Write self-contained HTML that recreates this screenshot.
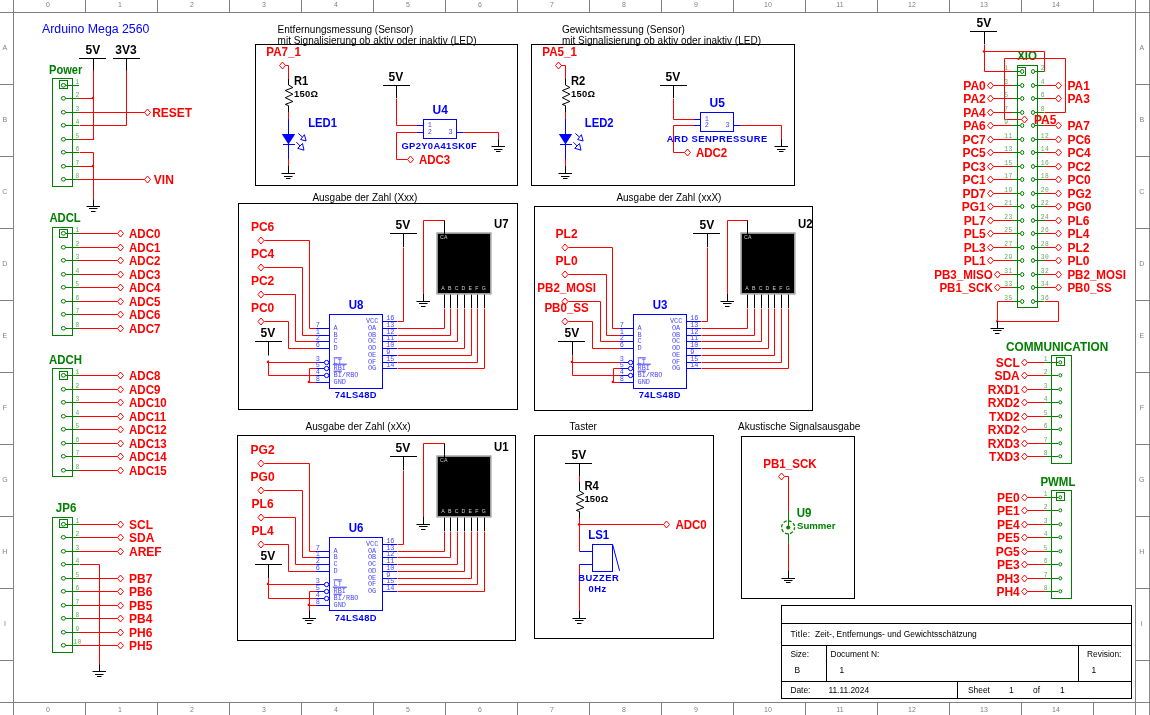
<!DOCTYPE html>
<html lang="de"><head><meta charset="utf-8"><title>Zeit-, Entfernungs- und Gewichtsschätzung</title>
<style>
html,body{margin:0;padding:0;background:#fff;}
svg{display:block;will-change:transform;}
text{font-family:"Liberation Sans",sans-serif;}
.fr{font-size:7px;fill:#808080;}
.am{font-size:12.3px;fill:#0000ff;}
.bk{font-size:12px;font-weight:bold;fill:#000;}
.bks{font-size:9.4px;font-weight:bold;fill:#000;letter-spacing:0.25px;}
.rd{font-size:12px;font-weight:bold;fill:#ff0000;}
.gn{font-size:12px;font-weight:bold;fill:#008000;}
.gns{font-size:9.6px;font-weight:bold;fill:#008000;}
.bl{font-size:12px;font-weight:bold;fill:#0000ff;}
.bls{font-size:9.4px;font-weight:bold;fill:#0000ff;}
.t10{font-size:10px;fill:#000;}
.tb{font-size:8.4px;fill:#000;}
.pg{font-family:"Liberation Mono",monospace;font-size:6.3px;fill:#62ae62;letter-spacing:0.45px;}
.pb{font-family:"Liberation Mono",monospace;font-size:6.9px;fill:#4848ff;}
.dl{font-size:5.2px;fill:#d0d0d0;letter-spacing:0.4px;}
</style></head>
<body>
<svg width="1150" height="715" viewBox="0 0 1150 715" fill="none">
<rect x="0" y="0" width="1150" height="715" fill="#fff"/>
<path d="M0 12.5L1150 12.5" stroke="#808080"/>
<path d="M0 702.5L1150 702.5" stroke="#808080"/>
<path d="M13.5 0L13.5 715" stroke="#808080"/>
<path d="M1135.5 0L1135.5 715" stroke="#808080"/>
<path d="M1149.6 0L1149.6 715" stroke="#808080"/>
<path d="M85.5 0L85.5 12.5" stroke="#808080"/>
<path d="M85.5 702.5L85.5 715" stroke="#808080"/>
<path d="M157.5 0L157.5 12.5" stroke="#808080"/>
<path d="M157.5 702.5L157.5 715" stroke="#808080"/>
<path d="M229.5 0L229.5 12.5" stroke="#808080"/>
<path d="M229.5 702.5L229.5 715" stroke="#808080"/>
<path d="M301.5 0L301.5 12.5" stroke="#808080"/>
<path d="M301.5 702.5L301.5 715" stroke="#808080"/>
<path d="M373.5 0L373.5 12.5" stroke="#808080"/>
<path d="M373.5 702.5L373.5 715" stroke="#808080"/>
<path d="M445.5 0L445.5 12.5" stroke="#808080"/>
<path d="M445.5 702.5L445.5 715" stroke="#808080"/>
<path d="M517.5 0L517.5 12.5" stroke="#808080"/>
<path d="M517.5 702.5L517.5 715" stroke="#808080"/>
<path d="M589.5 0L589.5 12.5" stroke="#808080"/>
<path d="M589.5 702.5L589.5 715" stroke="#808080"/>
<path d="M661.5 0L661.5 12.5" stroke="#808080"/>
<path d="M661.5 702.5L661.5 715" stroke="#808080"/>
<path d="M733.5 0L733.5 12.5" stroke="#808080"/>
<path d="M733.5 702.5L733.5 715" stroke="#808080"/>
<path d="M805.5 0L805.5 12.5" stroke="#808080"/>
<path d="M805.5 702.5L805.5 715" stroke="#808080"/>
<path d="M877.5 0L877.5 12.5" stroke="#808080"/>
<path d="M877.5 702.5L877.5 715" stroke="#808080"/>
<path d="M949.5 0L949.5 12.5" stroke="#808080"/>
<path d="M949.5 702.5L949.5 715" stroke="#808080"/>
<path d="M1021.5 0L1021.5 12.5" stroke="#808080"/>
<path d="M1021.5 702.5L1021.5 715" stroke="#808080"/>
<path d="M1093.5 0L1093.5 12.5" stroke="#808080"/>
<path d="M1093.5 702.5L1093.5 715" stroke="#808080"/>
<path d="M0 84.5L13.5 84.5" stroke="#808080"/>
<path d="M1135.5 84.5L1150 84.5" stroke="#808080"/>
<path d="M0 156.5L13.5 156.5" stroke="#808080"/>
<path d="M1135.5 156.5L1150 156.5" stroke="#808080"/>
<path d="M0 228.5L13.5 228.5" stroke="#808080"/>
<path d="M1135.5 228.5L1150 228.5" stroke="#808080"/>
<path d="M0 300.5L13.5 300.5" stroke="#808080"/>
<path d="M1135.5 300.5L1150 300.5" stroke="#808080"/>
<path d="M0 372.5L13.5 372.5" stroke="#808080"/>
<path d="M1135.5 372.5L1150 372.5" stroke="#808080"/>
<path d="M0 444.5L13.5 444.5" stroke="#808080"/>
<path d="M1135.5 444.5L1150 444.5" stroke="#808080"/>
<path d="M0 516.5L13.5 516.5" stroke="#808080"/>
<path d="M1135.5 516.5L1150 516.5" stroke="#808080"/>
<path d="M0 588.5L13.5 588.5" stroke="#808080"/>
<path d="M1135.5 588.5L1150 588.5" stroke="#808080"/>
<path d="M0 660.5L13.5 660.5" stroke="#808080"/>
<path d="M1135.5 660.5L1150 660.5" stroke="#808080"/>
<text x="48" y="6.9" class="fr" text-anchor="middle">0</text>
<text x="48" y="712.1" class="fr" text-anchor="middle">0</text>
<text x="120" y="6.9" class="fr" text-anchor="middle">1</text>
<text x="120" y="712.1" class="fr" text-anchor="middle">1</text>
<text x="192" y="6.9" class="fr" text-anchor="middle">2</text>
<text x="192" y="712.1" class="fr" text-anchor="middle">2</text>
<text x="264" y="6.9" class="fr" text-anchor="middle">3</text>
<text x="264" y="712.1" class="fr" text-anchor="middle">3</text>
<text x="336" y="6.9" class="fr" text-anchor="middle">4</text>
<text x="336" y="712.1" class="fr" text-anchor="middle">4</text>
<text x="408" y="6.9" class="fr" text-anchor="middle">5</text>
<text x="408" y="712.1" class="fr" text-anchor="middle">5</text>
<text x="480" y="6.9" class="fr" text-anchor="middle">6</text>
<text x="480" y="712.1" class="fr" text-anchor="middle">6</text>
<text x="552" y="6.9" class="fr" text-anchor="middle">7</text>
<text x="552" y="712.1" class="fr" text-anchor="middle">7</text>
<text x="624" y="6.9" class="fr" text-anchor="middle">8</text>
<text x="624" y="712.1" class="fr" text-anchor="middle">8</text>
<text x="696" y="6.9" class="fr" text-anchor="middle">9</text>
<text x="696" y="712.1" class="fr" text-anchor="middle">9</text>
<text x="768" y="6.9" class="fr" text-anchor="middle">10</text>
<text x="768" y="712.1" class="fr" text-anchor="middle">10</text>
<text x="840" y="6.9" class="fr" text-anchor="middle">11</text>
<text x="840" y="712.1" class="fr" text-anchor="middle">11</text>
<text x="912" y="6.9" class="fr" text-anchor="middle">12</text>
<text x="912" y="712.1" class="fr" text-anchor="middle">12</text>
<text x="984" y="6.9" class="fr" text-anchor="middle">13</text>
<text x="984" y="712.1" class="fr" text-anchor="middle">13</text>
<text x="1056" y="6.9" class="fr" text-anchor="middle">14</text>
<text x="1056" y="712.1" class="fr" text-anchor="middle">14</text>
<text x="4.9" y="50.1" class="fr" text-anchor="middle">A</text>
<text x="1141.8" y="50" class="fr" text-anchor="middle">A</text>
<text x="4.9" y="122.1" class="fr" text-anchor="middle">B</text>
<text x="1141.8" y="122" class="fr" text-anchor="middle">B</text>
<text x="4.9" y="194.1" class="fr" text-anchor="middle">C</text>
<text x="1141.8" y="194" class="fr" text-anchor="middle">C</text>
<text x="4.9" y="266.1" class="fr" text-anchor="middle">D</text>
<text x="1141.8" y="266" class="fr" text-anchor="middle">D</text>
<text x="4.9" y="338.1" class="fr" text-anchor="middle">E</text>
<text x="1141.8" y="338" class="fr" text-anchor="middle">E</text>
<text x="4.9" y="410.1" class="fr" text-anchor="middle">F</text>
<text x="1141.8" y="410" class="fr" text-anchor="middle">F</text>
<text x="4.9" y="482.1" class="fr" text-anchor="middle">G</text>
<text x="1141.8" y="482" class="fr" text-anchor="middle">G</text>
<text x="4.9" y="554.1" class="fr" text-anchor="middle">H</text>
<text x="1141.8" y="554" class="fr" text-anchor="middle">H</text>
<text x="4.9" y="626.1" class="fr" text-anchor="middle">I</text>
<text x="1141.8" y="626" class="fr" text-anchor="middle">I</text>
<text x="42" y="32.8" class="am">Arduino Mega 2560</text>
<text x="49" y="74" class="gn" textLength="33.31" lengthAdjust="spacingAndGlyphs">Power</text>
<rect x="52.5" y="78.5" width="20" height="108" stroke="#008000" fill="none"/>
<rect x="59.5" y="80.5" width="8" height="8" stroke="#008000" fill="none"/>
<ellipse cx="63.4" cy="85.3" rx="2.1" ry="1.8" stroke="#008000" fill="none"/>
<path d="M65.5 85.5L79 85.5" stroke="#008000"/>
<text x="77.6" y="84.1" class="pg" text-anchor="middle">1</text>
<ellipse cx="63.4" cy="98.3" rx="2.1" ry="1.8" stroke="#008000" fill="none"/>
<path d="M65.5 98.5L79 98.5" stroke="#008000"/>
<text x="77.6" y="97.1" class="pg" text-anchor="middle">2</text>
<ellipse cx="63.4" cy="112.3" rx="2.1" ry="1.8" stroke="#008000" fill="none"/>
<path d="M65.5 112.5L79 112.5" stroke="#008000"/>
<text x="77.6" y="111.1" class="pg" text-anchor="middle">3</text>
<ellipse cx="63.4" cy="125.3" rx="2.1" ry="1.8" stroke="#008000" fill="none"/>
<path d="M65.5 125.5L79 125.5" stroke="#008000"/>
<text x="77.6" y="124.1" class="pg" text-anchor="middle">4</text>
<ellipse cx="63.4" cy="139.3" rx="2.1" ry="1.8" stroke="#008000" fill="none"/>
<path d="M65.5 139.5L79 139.5" stroke="#008000"/>
<text x="77.6" y="138.1" class="pg" text-anchor="middle">5</text>
<ellipse cx="63.4" cy="152.3" rx="2.1" ry="1.8" stroke="#008000" fill="none"/>
<path d="M65.5 152.5L79 152.5" stroke="#008000"/>
<text x="77.6" y="151.1" class="pg" text-anchor="middle">6</text>
<ellipse cx="63.4" cy="166.3" rx="2.1" ry="1.8" stroke="#008000" fill="none"/>
<path d="M65.5 166.5L79 166.5" stroke="#008000"/>
<text x="77.6" y="165.1" class="pg" text-anchor="middle">7</text>
<ellipse cx="63.4" cy="179.3" rx="2.1" ry="1.8" stroke="#008000" fill="none"/>
<path d="M65.5 179.5L79 179.5" stroke="#008000"/>
<text x="77.6" y="178.1" class="pg" text-anchor="middle">8</text>
<text x="92.9" y="54" class="bk" text-anchor="middle">5V</text>
<path d="M79 58.5L106 58.5" stroke="#000000"/>
<path d="M93.5 58.5L93.5 71" stroke="#000000"/>
<text x="125.9" y="54" class="bk" text-anchor="middle">3V3</text>
<path d="M113 58.5L140 58.5" stroke="#000000"/>
<path d="M126.5 58.5L126.5 71" stroke="#000000"/>
<path d="M93.5 70.5L93.5 139.5" stroke="#ff0000"/>
<path d="M79 98.5L93.5 98.5" stroke="#ff0000"/>
<path d="M79 139.5L94 139.5" stroke="#ff0000"/>
<circle cx="92.9" cy="98" r="1.2" fill="#ff0000"/>
<path d="M126.5 70.5L126.5 125.5L79.5 125.5" stroke="#ff0000" fill="none"/>
<path d="M79 112.5L144.8 112.5" stroke="#ff0000"/>
<path d="M144.5 112.5L147.5 109L150.5 112.5L147.5 116Z" stroke="#ff0000" fill="#fff"/>
<text x="152.2" y="116.8" class="rd">RESET</text>
<path d="M79 179.5L144.8 179.5" stroke="#ff0000"/>
<path d="M144.5 179.5L147.5 176L150.5 179.5L147.5 183Z" stroke="#ff0000" fill="#fff"/>
<text x="153.8" y="183.8" class="rd">VIN</text>
<path d="M79.5 152.5L93.5 152.5L93.5 199.5" stroke="#ff0000" fill="none"/>
<path d="M79 166.5L93.5 166.5" stroke="#ff0000"/>
<circle cx="92.9" cy="166" r="1.2" fill="#ff0000"/>
<path d="M93.5 199.3L93.5 206.3" stroke="#000000"/>
<path d="M86.5 206.5L100 206.5" stroke="#000000"/>
<path d="M89 208.5L97.5 208.5" stroke="#000000"/>
<path d="M91 211.5L95.5 211.5" stroke="#000000"/>
<text x="49.4" y="222.2" class="gn" textLength="31.33" lengthAdjust="spacingAndGlyphs">ADCL</text>
<rect x="52.5" y="227.5" width="20" height="108" stroke="#008000" fill="none"/>
<rect x="59.5" y="229.5" width="8" height="8" stroke="#008000" fill="none"/>
<ellipse cx="63.4" cy="233.3" rx="2.1" ry="1.8" stroke="#008000" fill="none"/>
<path d="M65.5 233.5L79 233.5" stroke="#008000"/>
<text x="77.6" y="232.1" class="pg" text-anchor="middle">1</text>
<path d="M79 233.5L117.6 233.5" stroke="#ff0000"/>
<path d="M117.5 233.5L120.5 230L123.5 233.5L120.5 237Z" stroke="#ff0000" fill="#fff"/>
<text x="129" y="237.8" class="rd" textLength="31.37" lengthAdjust="spacingAndGlyphs">ADC0</text>
<ellipse cx="63.4" cy="247.3" rx="2.1" ry="1.8" stroke="#008000" fill="none"/>
<path d="M65.5 247.5L79 247.5" stroke="#008000"/>
<text x="77.6" y="246.1" class="pg" text-anchor="middle">2</text>
<path d="M79 247.5L117.6 247.5" stroke="#ff0000"/>
<path d="M117.5 247.5L120.5 244L123.5 247.5L120.5 251Z" stroke="#ff0000" fill="#fff"/>
<text x="129" y="251.8" class="rd" textLength="31.37" lengthAdjust="spacingAndGlyphs">ADC1</text>
<ellipse cx="63.4" cy="260.3" rx="2.1" ry="1.8" stroke="#008000" fill="none"/>
<path d="M65.5 260.5L79 260.5" stroke="#008000"/>
<text x="77.6" y="259.1" class="pg" text-anchor="middle">3</text>
<path d="M79 260.5L117.6 260.5" stroke="#ff0000"/>
<path d="M117.5 260.5L120.5 257L123.5 260.5L120.5 264Z" stroke="#ff0000" fill="#fff"/>
<text x="129" y="264.8" class="rd" textLength="31.37" lengthAdjust="spacingAndGlyphs">ADC2</text>
<ellipse cx="63.4" cy="274.3" rx="2.1" ry="1.8" stroke="#008000" fill="none"/>
<path d="M65.5 274.5L79 274.5" stroke="#008000"/>
<text x="77.6" y="273.1" class="pg" text-anchor="middle">4</text>
<path d="M79 274.5L117.6 274.5" stroke="#ff0000"/>
<path d="M117.5 274.5L120.5 271L123.5 274.5L120.5 278Z" stroke="#ff0000" fill="#fff"/>
<text x="129" y="278.8" class="rd" textLength="31.37" lengthAdjust="spacingAndGlyphs">ADC3</text>
<ellipse cx="63.4" cy="287.3" rx="2.1" ry="1.8" stroke="#008000" fill="none"/>
<path d="M65.5 287.5L79 287.5" stroke="#008000"/>
<text x="77.6" y="286.1" class="pg" text-anchor="middle">5</text>
<path d="M79 287.5L117.6 287.5" stroke="#ff0000"/>
<path d="M117.5 287.5L120.5 284L123.5 287.5L120.5 291Z" stroke="#ff0000" fill="#fff"/>
<text x="129" y="291.8" class="rd" textLength="31.37" lengthAdjust="spacingAndGlyphs">ADC4</text>
<ellipse cx="63.4" cy="301.3" rx="2.1" ry="1.8" stroke="#008000" fill="none"/>
<path d="M65.5 301.5L79 301.5" stroke="#008000"/>
<text x="77.6" y="300.1" class="pg" text-anchor="middle">6</text>
<path d="M79 301.5L117.6 301.5" stroke="#ff0000"/>
<path d="M117.5 301.5L120.5 298L123.5 301.5L120.5 305Z" stroke="#ff0000" fill="#fff"/>
<text x="129" y="305.8" class="rd" textLength="31.37" lengthAdjust="spacingAndGlyphs">ADC5</text>
<ellipse cx="63.4" cy="314.3" rx="2.1" ry="1.8" stroke="#008000" fill="none"/>
<path d="M65.5 314.5L79 314.5" stroke="#008000"/>
<text x="77.6" y="313.1" class="pg" text-anchor="middle">7</text>
<path d="M79 314.5L117.6 314.5" stroke="#ff0000"/>
<path d="M117.5 314.5L120.5 311L123.5 314.5L120.5 318Z" stroke="#ff0000" fill="#fff"/>
<text x="129" y="318.8" class="rd" textLength="31.37" lengthAdjust="spacingAndGlyphs">ADC6</text>
<ellipse cx="63.4" cy="328.3" rx="2.1" ry="1.8" stroke="#008000" fill="none"/>
<path d="M65.5 328.5L79 328.5" stroke="#008000"/>
<text x="77.6" y="327.1" class="pg" text-anchor="middle">8</text>
<path d="M79 328.5L117.6 328.5" stroke="#ff0000"/>
<path d="M117.5 328.5L120.5 325L123.5 328.5L120.5 332Z" stroke="#ff0000" fill="#fff"/>
<text x="129" y="332.8" class="rd" textLength="31.37" lengthAdjust="spacingAndGlyphs">ADC7</text>
<text x="49" y="363.6" class="gn" textLength="32.93" lengthAdjust="spacingAndGlyphs">ADCH</text>
<rect x="52.5" y="368.5" width="20" height="108" stroke="#008000" fill="none"/>
<rect x="59.5" y="371.5" width="8" height="8" stroke="#008000" fill="none"/>
<ellipse cx="63.4" cy="375.3" rx="2.1" ry="1.8" stroke="#008000" fill="none"/>
<path d="M65.5 375.5L79 375.5" stroke="#008000"/>
<text x="77.6" y="374.1" class="pg" text-anchor="middle">1</text>
<path d="M79 375.5L117.6 375.5" stroke="#ff0000"/>
<path d="M117.5 375.5L120.5 372L123.5 375.5L120.5 379Z" stroke="#ff0000" fill="#fff"/>
<text x="129" y="379.8" class="rd" textLength="31.37" lengthAdjust="spacingAndGlyphs">ADC8</text>
<ellipse cx="63.4" cy="389.3" rx="2.1" ry="1.8" stroke="#008000" fill="none"/>
<path d="M65.5 389.5L79 389.5" stroke="#008000"/>
<text x="77.6" y="388.1" class="pg" text-anchor="middle">2</text>
<path d="M79 389.5L117.6 389.5" stroke="#ff0000"/>
<path d="M117.5 389.5L120.5 386L123.5 389.5L120.5 393Z" stroke="#ff0000" fill="#fff"/>
<text x="129" y="393.8" class="rd" textLength="31.37" lengthAdjust="spacingAndGlyphs">ADC9</text>
<ellipse cx="63.4" cy="402.3" rx="2.1" ry="1.8" stroke="#008000" fill="none"/>
<path d="M65.5 402.5L79 402.5" stroke="#008000"/>
<text x="77.6" y="401.1" class="pg" text-anchor="middle">3</text>
<path d="M79 402.5L117.6 402.5" stroke="#ff0000"/>
<path d="M117.5 402.5L120.5 399L123.5 402.5L120.5 406Z" stroke="#ff0000" fill="#fff"/>
<text x="129" y="406.8" class="rd" textLength="37.77" lengthAdjust="spacingAndGlyphs">ADC10</text>
<ellipse cx="63.4" cy="416.3" rx="2.1" ry="1.8" stroke="#008000" fill="none"/>
<path d="M65.5 416.5L79 416.5" stroke="#008000"/>
<text x="77.6" y="415.1" class="pg" text-anchor="middle">4</text>
<path d="M79 416.5L117.6 416.5" stroke="#ff0000"/>
<path d="M117.5 416.5L120.5 413L123.5 416.5L120.5 420Z" stroke="#ff0000" fill="#fff"/>
<text x="129" y="420.8" class="rd" textLength="37.14" lengthAdjust="spacingAndGlyphs">ADC11</text>
<ellipse cx="63.4" cy="429.3" rx="2.1" ry="1.8" stroke="#008000" fill="none"/>
<path d="M65.5 429.5L79 429.5" stroke="#008000"/>
<text x="77.6" y="428.1" class="pg" text-anchor="middle">5</text>
<path d="M79 429.5L117.6 429.5" stroke="#ff0000"/>
<path d="M117.5 429.5L120.5 426L123.5 429.5L120.5 433Z" stroke="#ff0000" fill="#fff"/>
<text x="129" y="433.8" class="rd" textLength="37.77" lengthAdjust="spacingAndGlyphs">ADC12</text>
<ellipse cx="63.4" cy="443.3" rx="2.1" ry="1.8" stroke="#008000" fill="none"/>
<path d="M65.5 443.5L79 443.5" stroke="#008000"/>
<text x="77.6" y="442.1" class="pg" text-anchor="middle">6</text>
<path d="M79 443.5L117.6 443.5" stroke="#ff0000"/>
<path d="M117.5 443.5L120.5 440L123.5 443.5L120.5 447Z" stroke="#ff0000" fill="#fff"/>
<text x="129" y="447.8" class="rd" textLength="37.77" lengthAdjust="spacingAndGlyphs">ADC13</text>
<ellipse cx="63.4" cy="456.3" rx="2.1" ry="1.8" stroke="#008000" fill="none"/>
<path d="M65.5 456.5L79 456.5" stroke="#008000"/>
<text x="77.6" y="455.1" class="pg" text-anchor="middle">7</text>
<path d="M79 456.5L117.6 456.5" stroke="#ff0000"/>
<path d="M117.5 456.5L120.5 453L123.5 456.5L120.5 460Z" stroke="#ff0000" fill="#fff"/>
<text x="129" y="460.8" class="rd" textLength="37.77" lengthAdjust="spacingAndGlyphs">ADC14</text>
<ellipse cx="63.4" cy="470.3" rx="2.1" ry="1.8" stroke="#008000" fill="none"/>
<path d="M65.5 470.5L79 470.5" stroke="#008000"/>
<text x="77.6" y="469.1" class="pg" text-anchor="middle">8</text>
<path d="M79 470.5L117.6 470.5" stroke="#ff0000"/>
<path d="M117.5 470.5L120.5 467L123.5 470.5L120.5 474Z" stroke="#ff0000" fill="#fff"/>
<text x="129" y="474.8" class="rd" textLength="37.77" lengthAdjust="spacingAndGlyphs">ADC15</text>
<path d="M79.5 564.5L99.5 564.5L99.5 665.5" stroke="#ff0000" fill="none"/>
<text x="55.8" y="512" class="gn" textLength="20.5" lengthAdjust="spacingAndGlyphs">JP6</text>
<rect x="52.5" y="517.5" width="20" height="135" stroke="#008000" fill="none"/>
<rect x="59.5" y="519.5" width="8" height="8" stroke="#008000" fill="none"/>
<ellipse cx="63.4" cy="524.3" rx="2.1" ry="1.8" stroke="#008000" fill="none"/>
<path d="M65.5 524.5L79 524.5" stroke="#008000"/>
<text x="77.6" y="523.1" class="pg" text-anchor="middle">1</text>
<path d="M79 524.5L117.6 524.5" stroke="#ff0000"/>
<path d="M117.5 524.5L120.5 521L123.5 524.5L120.5 528Z" stroke="#ff0000" fill="#fff"/>
<text x="129" y="528.8" class="rd">SCL</text>
<ellipse cx="63.4" cy="537.3" rx="2.1" ry="1.8" stroke="#008000" fill="none"/>
<path d="M65.5 537.5L79 537.5" stroke="#008000"/>
<text x="77.6" y="536.1" class="pg" text-anchor="middle">2</text>
<path d="M79 537.5L117.6 537.5" stroke="#ff0000"/>
<path d="M117.5 537.5L120.5 534L123.5 537.5L120.5 541Z" stroke="#ff0000" fill="#fff"/>
<text x="129" y="541.8" class="rd">SDA</text>
<ellipse cx="63.4" cy="551.3" rx="2.1" ry="1.8" stroke="#008000" fill="none"/>
<path d="M65.5 551.5L79 551.5" stroke="#008000"/>
<text x="77.6" y="550.1" class="pg" text-anchor="middle">3</text>
<path d="M79 551.5L117.6 551.5" stroke="#ff0000"/>
<path d="M117.5 551.5L120.5 548L123.5 551.5L120.5 555Z" stroke="#ff0000" fill="#fff"/>
<text x="129" y="555.8" class="rd">AREF</text>
<ellipse cx="63.4" cy="564.3" rx="2.1" ry="1.8" stroke="#008000" fill="none"/>
<path d="M65.5 564.5L79 564.5" stroke="#008000"/>
<text x="77.6" y="563.1" class="pg" text-anchor="middle">4</text>
<ellipse cx="63.4" cy="578.3" rx="2.1" ry="1.8" stroke="#008000" fill="none"/>
<path d="M65.5 578.5L79 578.5" stroke="#008000"/>
<text x="77.6" y="577.1" class="pg" text-anchor="middle">5</text>
<path d="M79 578.5L117.6 578.5" stroke="#ff0000"/>
<path d="M117.5 578.5L120.5 575L123.5 578.5L120.5 582Z" stroke="#ff0000" fill="#fff"/>
<text x="129" y="582.8" class="rd">PB7</text>
<ellipse cx="63.4" cy="591.3" rx="2.1" ry="1.8" stroke="#008000" fill="none"/>
<path d="M65.5 591.5L79 591.5" stroke="#008000"/>
<text x="77.6" y="590.1" class="pg" text-anchor="middle">6</text>
<path d="M79 591.5L117.6 591.5" stroke="#ff0000"/>
<path d="M117.5 591.5L120.5 588L123.5 591.5L120.5 595Z" stroke="#ff0000" fill="#fff"/>
<text x="129" y="595.8" class="rd">PB6</text>
<ellipse cx="63.4" cy="605.3" rx="2.1" ry="1.8" stroke="#008000" fill="none"/>
<path d="M65.5 605.5L79 605.5" stroke="#008000"/>
<text x="77.6" y="604.1" class="pg" text-anchor="middle">7</text>
<path d="M79 605.5L117.6 605.5" stroke="#ff0000"/>
<path d="M117.5 605.5L120.5 602L123.5 605.5L120.5 609Z" stroke="#ff0000" fill="#fff"/>
<text x="129" y="609.8" class="rd">PB5</text>
<ellipse cx="63.4" cy="618.3" rx="2.1" ry="1.8" stroke="#008000" fill="none"/>
<path d="M65.5 618.5L79 618.5" stroke="#008000"/>
<text x="77.6" y="617.1" class="pg" text-anchor="middle">8</text>
<path d="M79 618.5L117.6 618.5" stroke="#ff0000"/>
<path d="M117.5 618.5L120.5 615L123.5 618.5L120.5 622Z" stroke="#ff0000" fill="#fff"/>
<text x="129" y="622.8" class="rd">PB4</text>
<ellipse cx="63.4" cy="632.3" rx="2.1" ry="1.8" stroke="#008000" fill="none"/>
<path d="M65.5 632.5L79 632.5" stroke="#008000"/>
<text x="77.6" y="631.1" class="pg" text-anchor="middle">9</text>
<path d="M79 632.5L117.6 632.5" stroke="#ff0000"/>
<path d="M117.5 632.5L120.5 629L123.5 632.5L120.5 636Z" stroke="#ff0000" fill="#fff"/>
<text x="129" y="636.8" class="rd">PH6</text>
<ellipse cx="63.4" cy="645.3" rx="2.1" ry="1.8" stroke="#008000" fill="none"/>
<path d="M65.5 645.5L79 645.5" stroke="#008000"/>
<text x="77.6" y="644.1" class="pg" text-anchor="middle">10</text>
<path d="M79 645.5L117.6 645.5" stroke="#ff0000"/>
<path d="M117.5 645.5L120.5 642L123.5 645.5L120.5 649Z" stroke="#ff0000" fill="#fff"/>
<text x="129" y="649.8" class="rd">PH5</text>
<path d="M99.5 664.7L99.5 671.7" stroke="#000000"/>
<path d="M92.5 671.5L106 671.5" stroke="#000000"/>
<path d="M95 674.5L103.5 674.5" stroke="#000000"/>
<path d="M97 676.5L101.5 676.5" stroke="#000000"/>
<rect x="255.5" y="44.5" width="262" height="141" stroke="#000000" fill="none"/>
<text x="277.6" y="32.5" class="t10">Entfernungsmessung (Sensor)</text>
<text x="277.6" y="43.6" class="t10">mit Signalisierung ob aktiv oder inaktiv (LED)</text>
<text x="283.6" y="55.6" class="rd" text-anchor="middle" textLength="34.55" lengthAdjust="spacingAndGlyphs">PA7_1</text>
<path d="M279.5 65.5L282.5 62L285.5 65.5L282.5 69Z" stroke="#ff0000" fill="#fff"/>
<path d="M285.5 65.5L288.5 65.5L288.5 79.5" stroke="#ff0000" fill="none"/>
<path d="M288.5 79L288.5 85" stroke="#000000"/>
<path d="M288.5 85L292.9 87.5L285.3 90.5L292.9 94.2L285.3 97.7L292.9 101.5L285.3 104.4L288.5 105.6L288.5 106" stroke="#000000" fill="none"/>
<path d="M288.5 106L288.5 112" stroke="#000000"/>
<path d="M288.5 112L288.5 119" stroke="#ff0000"/>
<path d="M288.5 119L288.5 134.4" stroke="#0000ff"/>
<path d="M281.8 134L295.2 134L288.5 144.4Z" fill="#0000ff"/>
<path d="M283 144.5L295 144.5" stroke="#0000ff"/>
<path d="M298.3 133.4L302.5 137.1" stroke="#0000ff"/>
<path d="M304.4 134.7L306.1 141L300.6 139.5Z" fill="#fff" stroke="#0000ff"/>
<path d="M296.4 142.2L300.2 146" stroke="#0000ff"/>
<path d="M302.5 143.5L304 150.2L297.7 148.3Z" fill="#fff" stroke="#0000ff"/>
<path d="M288.5 144L288.5 159" stroke="#0000ff"/>
<path d="M288.5 159L288.5 166" stroke="#ff0000"/>
<path d="M288.5 166L288.5 173.6" stroke="#000000"/>
<path d="M281.5 173.5L295 173.5" stroke="#000000"/>
<path d="M284 176.5L292.5 176.5" stroke="#000000"/>
<path d="M286 178.5L290.5 178.5" stroke="#000000"/>
<text x="294" y="85" class="bk" textLength="14.27" lengthAdjust="spacingAndGlyphs">R1</text>
<text x="294" y="97" class="bks">150Ω</text>
<text x="308.2" y="127" class="bl" textLength="28.83" lengthAdjust="spacingAndGlyphs">LED1</text>
<text x="395.9" y="81" class="bk" text-anchor="middle">5V</text>
<path d="M383 85.5L410 85.5" stroke="#000000"/>
<path d="M396.5 85.5L396.5 98" stroke="#000000"/>
<path d="M396.5 98.5L396.5 125.5L417.5 125.5" stroke="#ff0000" fill="none"/>
<path d="M417 125.5L423.5 125.5" stroke="#0000ff"/>
<path d="M417.5 132.5L396.5 132.5L396.5 159.5L407.5 159.5" stroke="#ff0000" fill="none"/>
<path d="M417 132.5L423.5 132.5" stroke="#0000ff"/>
<path d="M407.5 159.5L410.5 156L413.5 159.5L410.5 163Z" stroke="#ff0000" fill="#fff"/>
<text x="418.9" y="164.3" class="rd" textLength="31.37" lengthAdjust="spacingAndGlyphs">ADC3</text>
<rect x="423.5" y="119.5" width="33" height="19" stroke="#0000ff" fill="none"/>
<text x="429.7" y="126.9" class="pb" text-anchor="middle">1</text>
<text x="429.7" y="133.9" class="pb" text-anchor="middle">2</text>
<text x="450.5" y="133.9" class="pb" text-anchor="middle">3</text>
<text x="440.2" y="113.6" class="bl" text-anchor="middle">U4</text>
<path d="M456.5 132.5L463.8 132.5" stroke="#0000ff"/>
<path d="M463.5 132.5L498.5 132.5L498.5 139.5" stroke="#ff0000" fill="none"/>
<path d="M498.5 139.1L498.5 146.5" stroke="#000000"/>
<path d="M491.5 146.5L505 146.5" stroke="#000000"/>
<path d="M494 149.5L502.5 149.5" stroke="#000000"/>
<path d="M496 151.5L500.5 151.5" stroke="#000000"/>
<text x="401.4" y="148.6" class="bls" style="letter-spacing:0.36px;">GP2Y0A41SK0F</text>
<rect x="531.5" y="44.5" width="263" height="141" stroke="#000000" fill="none"/>
<text x="562" y="32.5" class="t10">Gewichtsmessung (Sensor)</text>
<text x="562" y="43.6" class="t10">mit Signalisierung ob aktiv oder inaktiv (LED)</text>
<text x="559.6" y="55.6" class="rd" text-anchor="middle" textLength="34.55" lengthAdjust="spacingAndGlyphs">PA5_1</text>
<path d="M555.5 65.5L558.5 62L561.5 65.5L558.5 69Z" stroke="#ff0000" fill="#fff"/>
<path d="M561.5 65.5L565.5 65.5L565.5 79.5" stroke="#ff0000" fill="none"/>
<path d="M565.5 79L565.5 85" stroke="#000000"/>
<path d="M565.5 85L569.9 87.5L562.3 90.5L569.9 94.2L562.3 97.7L569.9 101.5L562.3 104.4L565.5 105.6L565.5 106" stroke="#000000" fill="none"/>
<path d="M565.5 106L565.5 112" stroke="#000000"/>
<path d="M565.5 112L565.5 119" stroke="#ff0000"/>
<path d="M565.5 119L565.5 134.4" stroke="#0000ff"/>
<path d="M558.8 134L572.2 134L565.5 144.4Z" fill="#0000ff"/>
<path d="M560 144.5L572 144.5" stroke="#0000ff"/>
<path d="M575.3 133.4L579.5 137.1" stroke="#0000ff"/>
<path d="M581.4 134.7L583.1 141L577.6 139.5Z" fill="#fff" stroke="#0000ff"/>
<path d="M573.4 142.2L577.2 146" stroke="#0000ff"/>
<path d="M579.5 143.5L581 150.2L574.7 148.3Z" fill="#fff" stroke="#0000ff"/>
<path d="M565.5 144L565.5 159" stroke="#0000ff"/>
<path d="M565.5 159L565.5 166" stroke="#ff0000"/>
<path d="M565.5 166L565.5 173.6" stroke="#000000"/>
<path d="M558.5 173.5L572 173.5" stroke="#000000"/>
<path d="M561 176.5L569.5 176.5" stroke="#000000"/>
<path d="M563 178.5L567.5 178.5" stroke="#000000"/>
<text x="571" y="85" class="bk" textLength="14.27" lengthAdjust="spacingAndGlyphs">R2</text>
<text x="571" y="97" class="bks">150Ω</text>
<text x="584.8" y="127" class="bl" textLength="28.83" lengthAdjust="spacingAndGlyphs">LED2</text>
<text x="672.9" y="81" class="bk" text-anchor="middle">5V</text>
<path d="M660 85.5L687 85.5" stroke="#000000"/>
<path d="M673.5 85.5L673.5 98" stroke="#000000"/>
<path d="M673.5 98.5L673.5 119.5L694.5 119.5" stroke="#ff0000" fill="none"/>
<path d="M694 119.5L700.5 119.5" stroke="#0000ff"/>
<path d="M694.5 125.5L673.5 125.5L673.5 152.5L684.5 152.5" stroke="#ff0000" fill="none"/>
<path d="M694 125.5L700.5 125.5" stroke="#0000ff"/>
<path d="M684.5 152.5L687.5 149L690.5 152.5L687.5 156Z" stroke="#ff0000" fill="#fff"/>
<text x="695.9" y="157.3" class="rd" textLength="31.37" lengthAdjust="spacingAndGlyphs">ADC2</text>
<rect x="700.5" y="112.5" width="33" height="19" stroke="#0000ff" fill="none"/>
<text x="706.7" y="120.9" class="pb" text-anchor="middle">1</text>
<text x="706.7" y="126.9" class="pb" text-anchor="middle">2</text>
<text x="727.5" y="126.9" class="pb" text-anchor="middle">3</text>
<text x="717.2" y="106.6" class="bl" text-anchor="middle">U5</text>
<path d="M733.5 125.5L740.8 125.5" stroke="#0000ff"/>
<path d="M740.5 125.5L781.5 125.5L781.5 139.5" stroke="#ff0000" fill="none"/>
<path d="M781.5 139.1L781.5 146.5" stroke="#000000"/>
<path d="M774.5 146.5L788 146.5" stroke="#000000"/>
<path d="M777 149.5L785.5 149.5" stroke="#000000"/>
<path d="M779 151.5L783.5 151.5" stroke="#000000"/>
<text x="666.8" y="142" class="bls" style="letter-spacing:0.47px;">ARD SENPRESSURE</text>
<rect x="238.5" y="203.5" width="279" height="206" stroke="#000000" fill="none"/>
<text x="312.4" y="200.9" class="t10">Ausgabe der Zahl (Xxx)</text>
<path d="M264.5 240.5L309.5 240.5L309.5 328.5L316.5 328.5" stroke="#ff0000" fill="none"/>
<path d="M264.5 267.5L302.5 267.5L302.5 335.5L316.5 335.5" stroke="#ff0000" fill="none"/>
<path d="M264.5 294.5L295.5 294.5L295.5 341.5L316.5 341.5" stroke="#ff0000" fill="none"/>
<path d="M264.5 321.5L288.5 321.5L288.5 348.5L316.5 348.5" stroke="#ff0000" fill="none"/>
<text x="262.6" y="231" class="rd" text-anchor="middle">PC6</text>
<path d="M258 240.5L261 237L264 240.5L261 244Z" stroke="#ff0000" fill="#fff"/>
<text x="262.6" y="258.4" class="rd" text-anchor="middle">PC4</text>
<path d="M258 267.5L261 264L264 267.5L261 271Z" stroke="#ff0000" fill="#fff"/>
<text x="262.6" y="285" class="rd" text-anchor="middle">PC2</text>
<path d="M258 294.5L261 291L264 294.5L261 298Z" stroke="#ff0000" fill="#fff"/>
<text x="262.6" y="312" class="rd" text-anchor="middle">PC0</text>
<path d="M258 321.5L261 318L264 321.5L261 325Z" stroke="#ff0000" fill="#fff"/>
<text x="402.9" y="229" class="bk" text-anchor="middle">5V</text>
<path d="M390 233.5L417 233.5" stroke="#000000"/>
<path d="M403.5 233.5L403.5 247" stroke="#000000"/>
<path d="M403.5 247.5L403.5 321.5L397.5 321.5" stroke="#ff0000" fill="none"/>
<path d="M423.5 294.5L423.5 220.5L444.5 220.5" stroke="#ff0000" fill="none"/>
<path d="M423.5 294L423.5 301.4" stroke="#000000"/>
<path d="M416.5 301.5L430 301.5" stroke="#000000"/>
<path d="M419 303.5L427.5 303.5" stroke="#000000"/>
<path d="M421 306.5L425.5 306.5" stroke="#000000"/>
<rect x="437.1" y="233.1" width="53.7" height="60.7" stroke="#a0a0a4" fill="#000" stroke-width="1.6"/>
<text x="439.9" y="239.1" class="dl">CA</text>
<path d="M444.5 220.4L444.5 234" stroke="#000000"/>
<text x="443.2" y="290.1" class="dl" text-anchor="middle">A</text>
<path d="M444.5 294.6L444.5 308" stroke="#000000"/>
<path d="M444.5 308.5L444.5 328.5L397.5 328.5" stroke="#ff0000" fill="none"/>
<text x="449.98" y="290.1" class="dl" text-anchor="middle">B</text>
<path d="M450.5 294.6L450.5 308" stroke="#000000"/>
<path d="M450.5 308.5L450.5 335.5L397.5 335.5" stroke="#ff0000" fill="none"/>
<text x="456.76" y="290.1" class="dl" text-anchor="middle">C</text>
<path d="M457.5 294.6L457.5 308" stroke="#000000"/>
<path d="M457.5 308.5L457.5 341.5L397.5 341.5" stroke="#ff0000" fill="none"/>
<text x="463.54" y="290.1" class="dl" text-anchor="middle">D</text>
<path d="M464.5 294.6L464.5 308" stroke="#000000"/>
<path d="M464.5 308.5L464.5 348.5L397.5 348.5" stroke="#ff0000" fill="none"/>
<text x="470.32" y="290.1" class="dl" text-anchor="middle">E</text>
<path d="M471.5 294.6L471.5 308" stroke="#000000"/>
<path d="M471.5 308.5L471.5 355.5L397.5 355.5" stroke="#ff0000" fill="none"/>
<text x="477.1" y="290.1" class="dl" text-anchor="middle">F</text>
<path d="M477.5 294.6L477.5 308" stroke="#000000"/>
<path d="M477.5 308.5L477.5 362.5L397.5 362.5" stroke="#ff0000" fill="none"/>
<text x="483.88" y="290.1" class="dl" text-anchor="middle">G</text>
<path d="M484.5 294.6L484.5 308" stroke="#000000"/>
<path d="M484.5 308.5L484.5 368.5L397.5 368.5" stroke="#ff0000" fill="none"/>
<text x="494" y="228" class="bk" textLength="14.57" lengthAdjust="spacingAndGlyphs">U7</text>
<text x="356" y="309.4" class="bl" text-anchor="middle" textLength="14.73" lengthAdjust="spacingAndGlyphs">U8</text>
<rect x="329.5" y="314.5" width="53" height="74" stroke="#0000ff" fill="none"/>
<path d="M383 321.5L397 321.5" stroke="#0000ff"/>
<text x="386.2" y="319.9" class="pb">16</text>
<text x="372.1" y="323" class="pb" text-anchor="middle">VCC</text>
<path d="M383 328.5L397 328.5" stroke="#0000ff"/>
<text x="386.2" y="326.9" class="pb">13</text>
<text x="372.1" y="330" class="pb" text-anchor="middle">OA</text>
<path d="M383 335.5L397 335.5" stroke="#0000ff"/>
<text x="386.2" y="333.9" class="pb">12</text>
<text x="372.1" y="337" class="pb" text-anchor="middle">OB</text>
<path d="M383 341.5L397 341.5" stroke="#0000ff"/>
<text x="386.2" y="339.9" class="pb">11</text>
<text x="372.1" y="343" class="pb" text-anchor="middle">OC</text>
<path d="M383 348.5L397 348.5" stroke="#0000ff"/>
<text x="386.2" y="346.9" class="pb">10</text>
<text x="372.1" y="350" class="pb" text-anchor="middle">OD</text>
<path d="M383 355.5L397 355.5" stroke="#0000ff"/>
<text x="386.2" y="353.9" class="pb">9</text>
<text x="372.1" y="357" class="pb" text-anchor="middle">OE</text>
<path d="M383 362.5L397 362.5" stroke="#0000ff"/>
<text x="386.2" y="360.9" class="pb">15</text>
<text x="372.1" y="364" class="pb" text-anchor="middle">OF</text>
<path d="M383 368.5L397 368.5" stroke="#0000ff"/>
<text x="386.2" y="366.9" class="pb">14</text>
<text x="372.1" y="370" class="pb" text-anchor="middle">OG</text>
<path d="M316 328.5L329.5 328.5" stroke="#0000ff"/>
<text x="315.7" y="326.9" class="pb">7</text>
<text x="333.6" y="330" class="pb">A</text>
<path d="M316 335.5L329.5 335.5" stroke="#0000ff"/>
<text x="315.7" y="333.9" class="pb">1</text>
<text x="333.6" y="337" class="pb">B</text>
<path d="M316 341.5L329.5 341.5" stroke="#0000ff"/>
<text x="315.7" y="339.9" class="pb">2</text>
<text x="333.6" y="343" class="pb">C</text>
<path d="M316 348.5L329.5 348.5" stroke="#0000ff"/>
<text x="315.7" y="346.9" class="pb">6</text>
<text x="333.6" y="350" class="pb">D</text>
<path d="M316 362.5L324.4 362.5" stroke="#0000ff"/>
<circle cx="326.6" cy="362.5" r="2.15" stroke="#0000ff" fill="#fff"/>
<text x="315.7" y="360.9" class="pb">3</text>
<text x="333.6" y="364.1" class="pb">LT</text>
<path d="M316 368.5L324.4 368.5" stroke="#0000ff"/>
<circle cx="326.6" cy="368.5" r="2.15" stroke="#0000ff" fill="#fff"/>
<text x="315.7" y="366.9" class="pb">5</text>
<text x="333.6" y="370.1" class="pb">RBI</text>
<path d="M316 375.5L324.4 375.5" stroke="#0000ff"/>
<circle cx="326.6" cy="375.5" r="2.15" stroke="#0000ff" fill="#fff"/>
<text x="315.7" y="373.9" class="pb">4</text>
<text x="333.6" y="377.1" class="pb">BI/RBO</text>
<path d="M316 382.5L329.5 382.5" stroke="#0000ff"/>
<text x="315.7" y="380.9" class="pb">8</text>
<text x="333.6" y="384.1" class="pb">GND</text>
<path d="M333.6 357.9L341.8 357.9" stroke="#0000ff" stroke-width="0.8"/>
<path d="M332.8 364.2L346.8 364.2" stroke="#0000ff" stroke-width="0.8"/>
<path d="M333.6 371.2L341.8 371.2" stroke="#0000ff" stroke-width="0.8"/>
<text x="334.8" y="398.4" class="bls" style="letter-spacing:0.35px;">74LS48D</text>
<text x="267.9" y="337" class="bk" text-anchor="middle">5V</text>
<path d="M255 341.5L282 341.5" stroke="#000000"/>
<path d="M268.5 341.5L268.5 355.5" stroke="#000000"/>
<path d="M268.5 360.5L268.5 362.5" stroke="#ff0000"/>
<path d="M268.5 362.5L268.5 375.5L316.5 375.5" stroke="#ff0000" fill="none"/>
<path d="M268.5 362.5L316 362.5" stroke="#ff0000"/>
<circle cx="267.9" cy="361.9" r="1.2" fill="#ff0000"/>
<path d="M316.5 368.5L309.5 368.5L309.5 382.5" stroke="#ff0000" fill="none"/>
<path d="M308.6 382.5L316 382.5" stroke="#ff0000"/>
<circle cx="308.8" cy="381.9" r="1.2" fill="#ff0000"/>
<rect x="534.5" y="206.5" width="278" height="204" stroke="#000000" fill="none"/>
<text x="616.4" y="200.9" class="t10">Ausgabe der Zahl (xxX)</text>
<path d="M568.5 247.5L612.5 247.5L612.5 328.5L620.5 328.5" stroke="#ff0000" fill="none"/>
<path d="M568.5 274.5L606.5 274.5L606.5 335.5L620.5 335.5" stroke="#ff0000" fill="none"/>
<path d="M568.5 301.5L600.5 301.5L600.5 341.5L620.5 341.5" stroke="#ff0000" fill="none"/>
<path d="M568.5 321.5L592.5 321.5L592.5 348.5L620.5 348.5" stroke="#ff0000" fill="none"/>
<text x="566.6" y="238" class="rd" text-anchor="middle">PL2</text>
<path d="M562 247.5L565 244L568 247.5L565 251Z" stroke="#ff0000" fill="#fff"/>
<text x="566.6" y="265.4" class="rd" text-anchor="middle">PL0</text>
<path d="M562 274.5L565 271L568 274.5L565 278Z" stroke="#ff0000" fill="#fff"/>
<text x="566.6" y="292" class="rd" text-anchor="middle" textLength="58.56" lengthAdjust="spacingAndGlyphs">PB2_MOSI</text>
<path d="M562 301.5L565 298L568 301.5L565 305Z" stroke="#ff0000" fill="#fff"/>
<text x="566.6" y="312" class="rd" text-anchor="middle" textLength="44.41" lengthAdjust="spacingAndGlyphs">PB0_SS</text>
<path d="M562 321.5L565 318L568 321.5L565 325Z" stroke="#ff0000" fill="#fff"/>
<text x="706.9" y="229" class="bk" text-anchor="middle">5V</text>
<path d="M693 233.5L720 233.5" stroke="#000000"/>
<path d="M707.5 233.5L707.5 247" stroke="#000000"/>
<path d="M707.5 247.5L707.5 321.5L701.5 321.5" stroke="#ff0000" fill="none"/>
<path d="M727.5 294.5L727.5 220.5L747.5 220.5" stroke="#ff0000" fill="none"/>
<path d="M727.5 294L727.5 301.4" stroke="#000000"/>
<path d="M720.5 301.5L734 301.5" stroke="#000000"/>
<path d="M723 303.5L731.5 303.5" stroke="#000000"/>
<path d="M725 306.5L729.5 306.5" stroke="#000000"/>
<rect x="741.1" y="233.1" width="53.7" height="60.7" stroke="#a0a0a4" fill="#000" stroke-width="1.6"/>
<text x="743.9" y="239.1" class="dl">CA</text>
<path d="M747.5 220.4L747.5 234" stroke="#000000"/>
<text x="747.2" y="290.1" class="dl" text-anchor="middle">A</text>
<path d="M747.5 294.6L747.5 308" stroke="#000000"/>
<path d="M747.5 308.5L747.5 328.5L701.5 328.5" stroke="#ff0000" fill="none"/>
<text x="753.98" y="290.1" class="dl" text-anchor="middle">B</text>
<path d="M754.5 294.6L754.5 308" stroke="#000000"/>
<path d="M754.5 308.5L754.5 335.5L701.5 335.5" stroke="#ff0000" fill="none"/>
<text x="760.76" y="290.1" class="dl" text-anchor="middle">C</text>
<path d="M761.5 294.6L761.5 308" stroke="#000000"/>
<path d="M761.5 308.5L761.5 341.5L701.5 341.5" stroke="#ff0000" fill="none"/>
<text x="767.54" y="290.1" class="dl" text-anchor="middle">D</text>
<path d="M768.5 294.6L768.5 308" stroke="#000000"/>
<path d="M768.5 308.5L768.5 348.5L701.5 348.5" stroke="#ff0000" fill="none"/>
<text x="774.32" y="290.1" class="dl" text-anchor="middle">E</text>
<path d="M774.5 294.6L774.5 308" stroke="#000000"/>
<path d="M774.5 308.5L774.5 355.5L701.5 355.5" stroke="#ff0000" fill="none"/>
<text x="781.1" y="290.1" class="dl" text-anchor="middle">F</text>
<path d="M781.5 294.6L781.5 308" stroke="#000000"/>
<path d="M781.5 308.5L781.5 362.5L701.5 362.5" stroke="#ff0000" fill="none"/>
<text x="787.88" y="290.1" class="dl" text-anchor="middle">G</text>
<path d="M788.5 294.6L788.5 308" stroke="#000000"/>
<path d="M788.5 308.5L788.5 368.5L701.5 368.5" stroke="#ff0000" fill="none"/>
<text x="798" y="228" class="bk" textLength="14.57" lengthAdjust="spacingAndGlyphs">U2</text>
<text x="660" y="309.4" class="bl" text-anchor="middle" textLength="14.73" lengthAdjust="spacingAndGlyphs">U3</text>
<rect x="633.5" y="314.5" width="53" height="74" stroke="#0000ff" fill="none"/>
<path d="M687 321.5L701 321.5" stroke="#0000ff"/>
<text x="690.2" y="319.9" class="pb">16</text>
<text x="676.1" y="323" class="pb" text-anchor="middle">VCC</text>
<path d="M687 328.5L701 328.5" stroke="#0000ff"/>
<text x="690.2" y="326.9" class="pb">13</text>
<text x="676.1" y="330" class="pb" text-anchor="middle">OA</text>
<path d="M687 335.5L701 335.5" stroke="#0000ff"/>
<text x="690.2" y="333.9" class="pb">12</text>
<text x="676.1" y="337" class="pb" text-anchor="middle">OB</text>
<path d="M687 341.5L701 341.5" stroke="#0000ff"/>
<text x="690.2" y="339.9" class="pb">11</text>
<text x="676.1" y="343" class="pb" text-anchor="middle">OC</text>
<path d="M687 348.5L701 348.5" stroke="#0000ff"/>
<text x="690.2" y="346.9" class="pb">10</text>
<text x="676.1" y="350" class="pb" text-anchor="middle">OD</text>
<path d="M687 355.5L701 355.5" stroke="#0000ff"/>
<text x="690.2" y="353.9" class="pb">9</text>
<text x="676.1" y="357" class="pb" text-anchor="middle">OE</text>
<path d="M687 362.5L701 362.5" stroke="#0000ff"/>
<text x="690.2" y="360.9" class="pb">15</text>
<text x="676.1" y="364" class="pb" text-anchor="middle">OF</text>
<path d="M687 368.5L701 368.5" stroke="#0000ff"/>
<text x="690.2" y="366.9" class="pb">14</text>
<text x="676.1" y="370" class="pb" text-anchor="middle">OG</text>
<path d="M620 328.5L633.5 328.5" stroke="#0000ff"/>
<text x="619.7" y="326.9" class="pb">7</text>
<text x="637.6" y="330" class="pb">A</text>
<path d="M620 335.5L633.5 335.5" stroke="#0000ff"/>
<text x="619.7" y="333.9" class="pb">1</text>
<text x="637.6" y="337" class="pb">B</text>
<path d="M620 341.5L633.5 341.5" stroke="#0000ff"/>
<text x="619.7" y="339.9" class="pb">2</text>
<text x="637.6" y="343" class="pb">C</text>
<path d="M620 348.5L633.5 348.5" stroke="#0000ff"/>
<text x="619.7" y="346.9" class="pb">6</text>
<text x="637.6" y="350" class="pb">D</text>
<path d="M620 362.5L628.4 362.5" stroke="#0000ff"/>
<circle cx="630.6" cy="362.5" r="2.15" stroke="#0000ff" fill="#fff"/>
<text x="619.7" y="360.9" class="pb">3</text>
<text x="637.6" y="364.1" class="pb">LT</text>
<path d="M620 368.5L628.4 368.5" stroke="#0000ff"/>
<circle cx="630.6" cy="368.5" r="2.15" stroke="#0000ff" fill="#fff"/>
<text x="619.7" y="366.9" class="pb">5</text>
<text x="637.6" y="370.1" class="pb">RBI</text>
<path d="M620 375.5L628.4 375.5" stroke="#0000ff"/>
<circle cx="630.6" cy="375.5" r="2.15" stroke="#0000ff" fill="#fff"/>
<text x="619.7" y="373.9" class="pb">4</text>
<text x="637.6" y="377.1" class="pb">BI/RBO</text>
<path d="M620 382.5L633.5 382.5" stroke="#0000ff"/>
<text x="619.7" y="380.9" class="pb">8</text>
<text x="637.6" y="384.1" class="pb">GND</text>
<path d="M637.6 357.9L645.8 357.9" stroke="#0000ff" stroke-width="0.8"/>
<path d="M636.8 364.2L650.8 364.2" stroke="#0000ff" stroke-width="0.8"/>
<path d="M637.6 371.2L645.8 371.2" stroke="#0000ff" stroke-width="0.8"/>
<text x="638.8" y="398.4" class="bls" style="letter-spacing:0.35px;">74LS48D</text>
<text x="571.9" y="337" class="bk" text-anchor="middle">5V</text>
<path d="M558 341.5L585 341.5" stroke="#000000"/>
<path d="M572.5 341.5L572.5 355.5" stroke="#000000"/>
<path d="M572.5 355.5L572.5 362.5" stroke="#ff0000"/>
<path d="M572.5 362.5L572.5 375.5L620.5 375.5" stroke="#ff0000" fill="none"/>
<path d="M572.5 362.5L620 362.5" stroke="#ff0000"/>
<circle cx="571.9" cy="361.9" r="1.2" fill="#ff0000"/>
<path d="M620.5 368.5L613.5 368.5L613.5 382.5" stroke="#ff0000" fill="none"/>
<path d="M612.6 382.5L620 382.5" stroke="#ff0000"/>
<circle cx="612.8" cy="381.9" r="1.2" fill="#ff0000"/>
<rect x="237.5" y="435.5" width="278" height="205" stroke="#000000" fill="none"/>
<text x="305.6" y="430.3" class="t10">Ausgabe der Zahl (xXx)</text>
<path d="M264.5 463.5L309.5 463.5L309.5 551.5L316.5 551.5" stroke="#ff0000" fill="none"/>
<path d="M264.5 490.5L302.5 490.5L302.5 557.5L316.5 557.5" stroke="#ff0000" fill="none"/>
<path d="M264.5 517.5L295.5 517.5L295.5 564.5L316.5 564.5" stroke="#ff0000" fill="none"/>
<path d="M264.5 544.5L288.5 544.5L288.5 571.5L316.5 571.5" stroke="#ff0000" fill="none"/>
<text x="262.6" y="454" class="rd" text-anchor="middle">PG2</text>
<path d="M258 463.5L261 460L264 463.5L261 467Z" stroke="#ff0000" fill="#fff"/>
<text x="262.6" y="481.4" class="rd" text-anchor="middle">PG0</text>
<path d="M258 490.5L261 487L264 490.5L261 494Z" stroke="#ff0000" fill="#fff"/>
<text x="262.6" y="508" class="rd" text-anchor="middle">PL6</text>
<path d="M258 517.5L261 514L264 517.5L261 521Z" stroke="#ff0000" fill="#fff"/>
<text x="262.6" y="535" class="rd" text-anchor="middle">PL4</text>
<path d="M258 544.5L261 541L264 544.5L261 548Z" stroke="#ff0000" fill="#fff"/>
<text x="402.9" y="452" class="bk" text-anchor="middle">5V</text>
<path d="M390 456.5L417 456.5" stroke="#000000"/>
<path d="M403.5 456.5L403.5 470" stroke="#000000"/>
<path d="M403.5 470.5L403.5 544.5L397.5 544.5" stroke="#ff0000" fill="none"/>
<path d="M423.5 517.5L423.5 443.5L444.5 443.5" stroke="#ff0000" fill="none"/>
<path d="M423.5 517L423.5 524.4" stroke="#000000"/>
<path d="M416.5 524.5L430 524.5" stroke="#000000"/>
<path d="M419 526.5L427.5 526.5" stroke="#000000"/>
<path d="M421 529.5L425.5 529.5" stroke="#000000"/>
<rect x="437.1" y="456.1" width="53.7" height="60.7" stroke="#a0a0a4" fill="#000" stroke-width="1.6"/>
<text x="439.9" y="462.1" class="dl">CA</text>
<path d="M444.5 443.4L444.5 457" stroke="#000000"/>
<text x="443.2" y="513.1" class="dl" text-anchor="middle">A</text>
<path d="M444.5 517.6L444.5 531" stroke="#000000"/>
<path d="M444.5 531.5L444.5 551.5L397.5 551.5" stroke="#ff0000" fill="none"/>
<text x="449.98" y="513.1" class="dl" text-anchor="middle">B</text>
<path d="M450.5 517.6L450.5 531" stroke="#000000"/>
<path d="M450.5 531.5L450.5 557.5L397.5 557.5" stroke="#ff0000" fill="none"/>
<text x="456.76" y="513.1" class="dl" text-anchor="middle">C</text>
<path d="M457.5 517.6L457.5 531" stroke="#000000"/>
<path d="M457.5 531.5L457.5 564.5L397.5 564.5" stroke="#ff0000" fill="none"/>
<text x="463.54" y="513.1" class="dl" text-anchor="middle">D</text>
<path d="M464.5 517.6L464.5 531" stroke="#000000"/>
<path d="M464.5 531.5L464.5 571.5L397.5 571.5" stroke="#ff0000" fill="none"/>
<text x="470.32" y="513.1" class="dl" text-anchor="middle">E</text>
<path d="M471.5 517.6L471.5 531" stroke="#000000"/>
<path d="M471.5 531.5L471.5 578.5L397.5 578.5" stroke="#ff0000" fill="none"/>
<text x="477.1" y="513.1" class="dl" text-anchor="middle">F</text>
<path d="M477.5 517.6L477.5 531" stroke="#000000"/>
<path d="M477.5 531.5L477.5 584.5L397.5 584.5" stroke="#ff0000" fill="none"/>
<text x="483.88" y="513.1" class="dl" text-anchor="middle">G</text>
<path d="M484.5 517.6L484.5 531" stroke="#000000"/>
<path d="M484.5 531.5L484.5 591.5L397.5 591.5" stroke="#ff0000" fill="none"/>
<text x="494" y="451" class="bk" textLength="14.57" lengthAdjust="spacingAndGlyphs">U1</text>
<text x="356" y="532.4" class="bl" text-anchor="middle" textLength="14.73" lengthAdjust="spacingAndGlyphs">U6</text>
<rect x="329.5" y="537.5" width="53" height="73" stroke="#0000ff" fill="none"/>
<path d="M383 544.5L397 544.5" stroke="#0000ff"/>
<text x="386.2" y="542.9" class="pb">16</text>
<text x="372.1" y="546" class="pb" text-anchor="middle">VCC</text>
<path d="M383 551.5L397 551.5" stroke="#0000ff"/>
<text x="386.2" y="549.9" class="pb">13</text>
<text x="372.1" y="553" class="pb" text-anchor="middle">OA</text>
<path d="M383 557.5L397 557.5" stroke="#0000ff"/>
<text x="386.2" y="555.9" class="pb">12</text>
<text x="372.1" y="559" class="pb" text-anchor="middle">OB</text>
<path d="M383 564.5L397 564.5" stroke="#0000ff"/>
<text x="386.2" y="562.9" class="pb">11</text>
<text x="372.1" y="566" class="pb" text-anchor="middle">OC</text>
<path d="M383 571.5L397 571.5" stroke="#0000ff"/>
<text x="386.2" y="569.9" class="pb">10</text>
<text x="372.1" y="573" class="pb" text-anchor="middle">OD</text>
<path d="M383 578.5L397 578.5" stroke="#0000ff"/>
<text x="386.2" y="576.9" class="pb">9</text>
<text x="372.1" y="580" class="pb" text-anchor="middle">OE</text>
<path d="M383 584.5L397 584.5" stroke="#0000ff"/>
<text x="386.2" y="582.9" class="pb">15</text>
<text x="372.1" y="586" class="pb" text-anchor="middle">OF</text>
<path d="M383 591.5L397 591.5" stroke="#0000ff"/>
<text x="386.2" y="589.9" class="pb">14</text>
<text x="372.1" y="593" class="pb" text-anchor="middle">OG</text>
<path d="M316 551.5L329.5 551.5" stroke="#0000ff"/>
<text x="315.7" y="549.9" class="pb">7</text>
<text x="333.6" y="553" class="pb">A</text>
<path d="M316 557.5L329.5 557.5" stroke="#0000ff"/>
<text x="315.7" y="555.9" class="pb">1</text>
<text x="333.6" y="559" class="pb">B</text>
<path d="M316 564.5L329.5 564.5" stroke="#0000ff"/>
<text x="315.7" y="562.9" class="pb">2</text>
<text x="333.6" y="566" class="pb">C</text>
<path d="M316 571.5L329.5 571.5" stroke="#0000ff"/>
<text x="315.7" y="569.9" class="pb">6</text>
<text x="333.6" y="573" class="pb">D</text>
<path d="M316 584.5L324.4 584.5" stroke="#0000ff"/>
<circle cx="326.6" cy="584.5" r="2.15" stroke="#0000ff" fill="#fff"/>
<text x="315.7" y="582.9" class="pb">3</text>
<text x="333.6" y="586.1" class="pb">LT</text>
<path d="M316 591.5L324.4 591.5" stroke="#0000ff"/>
<circle cx="326.6" cy="591.5" r="2.15" stroke="#0000ff" fill="#fff"/>
<text x="315.7" y="589.9" class="pb">5</text>
<text x="333.6" y="593.1" class="pb">RBI</text>
<path d="M316 598.5L324.4 598.5" stroke="#0000ff"/>
<circle cx="326.6" cy="598.5" r="2.15" stroke="#0000ff" fill="#fff"/>
<text x="315.7" y="596.9" class="pb">4</text>
<text x="333.6" y="600.1" class="pb">BI/RBO</text>
<path d="M316 605.5L329.5 605.5" stroke="#0000ff"/>
<text x="315.7" y="603.9" class="pb">8</text>
<text x="333.6" y="607.1" class="pb">GND</text>
<path d="M333.6 579.9L341.8 579.9" stroke="#0000ff" stroke-width="0.8"/>
<path d="M332.8 587.2L346.8 587.2" stroke="#0000ff" stroke-width="0.8"/>
<path d="M333.6 594.2L341.8 594.2" stroke="#0000ff" stroke-width="0.8"/>
<text x="334.8" y="621.4" class="bls" style="letter-spacing:0.35px;">74LS48D</text>
<text x="267.9" y="560" class="bk" text-anchor="middle">5V</text>
<path d="M255 564.5L282 564.5" stroke="#000000"/>
<path d="M268.5 564.5L268.5 578.5" stroke="#000000"/>
<path d="M268.5 578.5L268.5 584.5" stroke="#ff0000"/>
<path d="M268.5 584.5L268.5 598.5L316.5 598.5" stroke="#ff0000" fill="none"/>
<path d="M268.5 584.5L316 584.5" stroke="#ff0000"/>
<circle cx="267.9" cy="583.9" r="1.2" fill="#ff0000"/>
<path d="M316.5 591.5L309.5 591.5L309.5 605.5" stroke="#ff0000" fill="none"/>
<path d="M308.6 605.5L316 605.5" stroke="#ff0000"/>
<circle cx="308.8" cy="604.9" r="1.2" fill="#ff0000"/>
<path d="M309.5 605.5L309.5 611" stroke="#ff0000"/>
<path d="M309.5 610.8L309.5 618.2" stroke="#000000"/>
<path d="M302.5 618.5L316 618.5" stroke="#000000"/>
<path d="M305 620.5L313.5 620.5" stroke="#000000"/>
<path d="M307 623.5L311.5 623.5" stroke="#000000"/>
<rect x="534.5" y="435.5" width="179" height="203" stroke="#000000" fill="none"/>
<text x="569.6" y="430.3" class="t10">Taster</text>
<text x="578.9" y="459" class="bk" text-anchor="middle">5V</text>
<path d="M565 463.5L592 463.5" stroke="#000000"/>
<path d="M579.5 463.5L579.5 476" stroke="#000000"/>
<path d="M579.5 476L579.5 482" stroke="#ff0000"/>
<path d="M579.5 482L579.5 491" stroke="#000000"/>
<path d="M579.5 491L583.9 493.5L576.3 496.5L583.9 500.2L576.3 503.7L583.9 507.5L576.3 510.4L579.5 511.6L579.5 512" stroke="#000000" fill="none"/>
<path d="M579.5 512L579.5 518" stroke="#000000"/>
<path d="M579.5 518L579.5 551.4" stroke="#ff0000"/>
<text x="584.4" y="489.6" class="bk" textLength="14.42" lengthAdjust="spacingAndGlyphs">R4</text>
<text x="584.4" y="502.4" class="bks">150Ω</text>
<path d="M579.5 524.5L663.6 524.5" stroke="#ff0000"/>
<circle cx="579" cy="524.5" r="1.2" fill="#ff0000"/>
<path d="M663.5 524.5L666.5 521L669.5 524.5L666.5 528Z" stroke="#ff0000" fill="#fff"/>
<text x="675.4" y="529.1" class="rd" textLength="31.37" lengthAdjust="spacingAndGlyphs">ADC0</text>
<text x="588.2" y="539" class="bl" textLength="20.91" lengthAdjust="spacingAndGlyphs">LS1</text>
<path d="M579.5 551.5L592.5 551.5" stroke="#0000ff"/>
<path d="M579.5 564.5L592.5 564.5" stroke="#0000ff"/>
<rect x="592.5" y="544.5" width="20" height="27" stroke="#0000ff" fill="none"/>
<path d="M612.6 544.6L619.6 570.8" stroke="#0000ff"/>
<path d="M579.5 564.2L579.5 611" stroke="#ff0000"/>
<path d="M579.5 611L579.5 618.4" stroke="#000000"/>
<path d="M572.5 618.5L586 618.5" stroke="#000000"/>
<path d="M575 620.5L583.5 620.5" stroke="#000000"/>
<path d="M577 623.5L581.5 623.5" stroke="#000000"/>
<text x="578.2" y="581" class="bls" style="letter-spacing:0.5px;">BUZZER</text>
<text x="588.4" y="592" class="bls" style="letter-spacing:0.6px;">0Hz</text>
<rect x="741.5" y="436.5" width="113" height="162" stroke="#000000" fill="none"/>
<text x="738" y="430.3" class="t10">Akustische Signalsausgabe</text>
<text x="790" y="468.4" class="rd" text-anchor="middle" textLength="53.42" lengthAdjust="spacingAndGlyphs">PB1_SCK</text>
<path d="M778.5 476.5L781.5 473L784.5 476.5L781.5 480Z" stroke="#ff0000" fill="#fff"/>
<path d="M784.5 476.5L788.5 476.5L788.5 511.5" stroke="#ff0000" fill="none"/>
<path d="M788.5 543.6L788.5 571" stroke="#ff0000"/>
<path d="M788.5 571L788.5 578" stroke="#000000"/>
<path d="M781.5 578.5L795 578.5" stroke="#000000"/>
<path d="M784 580.5L792.5 580.5" stroke="#000000"/>
<path d="M786 582.5L790.5 582.5" stroke="#000000"/>
<circle cx="788.1" cy="527.3" r="6.5" stroke="#008000" fill="#fffef6" stroke-width="1.3" stroke-dasharray="3.3 1.8" stroke-dashoffset="0.4"/>
<path d="M788.5 511L788.5 527" stroke="#008000"/>
<path d="M788.5 533.5L788.5 543.6" stroke="#008000"/>
<circle cx="788.2" cy="527.4" r="2" fill="#008000"/>
<text x="796.8" y="516.8" class="gn" textLength="14.73" lengthAdjust="spacingAndGlyphs">U9</text>
<text x="797" y="529" class="gns">Summer</text>
<rect x="781.5" y="605.5" width="350" height="93" stroke="#000000" fill="none"/>
<path d="M781.5 623.5L1131.5 623.5" stroke="#000000"/>
<path d="M781.5 645.5L1131.5 645.5" stroke="#000000"/>
<path d="M781.5 681.5L1131.5 681.5" stroke="#000000"/>
<path d="M826.5 645.4L826.5 681.5" stroke="#000000"/>
<path d="M1078.5 645.4L1078.5 681.5" stroke="#000000"/>
<path d="M957.5 681.5L957.5 698.3" stroke="#000000"/>
<text x="790.4" y="637" class="tb" style="letter-spacing:0.35px;">Title:</text>
<text x="815" y="637" class="tb" style="font-size:8.45px;">Zeit-, Entfernungs- und Gewichtsschätzung</text>
<text x="790.4" y="657" class="tb">Size:</text>
<text x="794.4" y="672.5" class="tb">B</text>
<text x="830.4" y="657" class="tb">Document N:</text>
<text x="839.6" y="672.5" class="tb">1</text>
<text x="1087" y="657" class="tb">Revision:</text>
<text x="1091.6" y="672.5" class="tb">1</text>
<text x="790.4" y="693" class="tb">Date:</text>
<text x="828.4" y="693" class="tb">11.11.2024</text>
<text x="968" y="693" class="tb">Sheet</text>
<text x="1009" y="693" class="tb">1</text>
<text x="1033" y="693" class="tb">of</text>
<text x="1060" y="693" class="tb">1</text>
<text x="1017.2" y="60" class="gn" textLength="19.84" lengthAdjust="spacingAndGlyphs">XIO</text>
<text x="983.9" y="27" class="bk" text-anchor="middle">5V</text>
<path d="M970 31.5L997 31.5" stroke="#000000"/>
<path d="M984.5 31.5L984.5 44" stroke="#000000"/>
<path d="M984.5 44.5L984.5 71.5L1012.5 71.5" stroke="#ff0000" fill="none"/>
<path d="M984.5 51.5L1044.5 51.5L1044.5 71.5L1040.5 71.5" stroke="#ff0000" fill="none"/>
<circle cx="984" cy="51.5" r="1.2" fill="#ff0000"/>
<path d="M1044.5 112.5L1065.5 112.5L1065.5 58.5L1004.5 58.5L1004.5 119.5L1021.5 119.5" stroke="#ff0000" fill="none"/>
<rect x="1017.5" y="65.5" width="20" height="242" stroke="#008000" fill="none"/>
<rect x="1017.5" y="67.5" width="8" height="8" stroke="#008000" fill="none"/>
<ellipse cx="1022.2" cy="71.5" rx="1.55" ry="2" stroke="#008000" fill="#fff"/>
<ellipse cx="1033" cy="71.5" rx="1.55" ry="2" stroke="#008000" fill="#fff"/>
<path d="M1012 71.5L1020.3 71.5" stroke="#008000"/>
<path d="M1034.9 71.5L1044 71.5" stroke="#008000"/>
<text x="1004.3" y="70.1" class="pg">1</text>
<text x="1040.8" y="70.1" class="pg">2</text>
<ellipse cx="1022.2" cy="85.5" rx="1.55" ry="2" stroke="#008000" fill="#fff"/>
<ellipse cx="1033" cy="85.5" rx="1.55" ry="2" stroke="#008000" fill="#fff"/>
<path d="M1012 85.5L1020.3 85.5" stroke="#008000"/>
<path d="M1034.9 85.5L1044 85.5" stroke="#008000"/>
<text x="1004.3" y="84.1" class="pg">3</text>
<text x="1040.8" y="84.1" class="pg">4</text>
<path d="M993.4 85.5L1012 85.5" stroke="#ff0000"/>
<path d="M987.5 85.5L990.5 82L993.5 85.5L990.5 89Z" stroke="#ff0000" fill="#fff"/>
<text x="985.8" y="89.8" class="rd" text-anchor="end">PA0</text>
<path d="M1044 85.5L1055.6 85.5" stroke="#ff0000"/>
<path d="M1055.5 85.5L1058.5 82L1061.5 85.5L1058.5 89Z" stroke="#ff0000" fill="#fff"/>
<text x="1067.4" y="89.8" class="rd">PA1</text>
<ellipse cx="1022.2" cy="98.5" rx="1.55" ry="2" stroke="#008000" fill="#fff"/>
<ellipse cx="1033" cy="98.5" rx="1.55" ry="2" stroke="#008000" fill="#fff"/>
<path d="M1012 98.5L1020.3 98.5" stroke="#008000"/>
<path d="M1034.9 98.5L1044 98.5" stroke="#008000"/>
<text x="1004.3" y="97.1" class="pg">5</text>
<text x="1040.8" y="97.1" class="pg">6</text>
<path d="M993.4 98.5L1012 98.5" stroke="#ff0000"/>
<path d="M987.5 98.5L990.5 95L993.5 98.5L990.5 102Z" stroke="#ff0000" fill="#fff"/>
<text x="985.8" y="102.8" class="rd" text-anchor="end">PA2</text>
<path d="M1044 98.5L1055.6 98.5" stroke="#ff0000"/>
<path d="M1055.5 98.5L1058.5 95L1061.5 98.5L1058.5 102Z" stroke="#ff0000" fill="#fff"/>
<text x="1067.4" y="102.8" class="rd">PA3</text>
<ellipse cx="1022.2" cy="112.5" rx="1.55" ry="2" stroke="#008000" fill="#fff"/>
<ellipse cx="1033" cy="112.5" rx="1.55" ry="2" stroke="#008000" fill="#fff"/>
<path d="M1012 112.5L1020.3 112.5" stroke="#008000"/>
<path d="M1034.9 112.5L1044 112.5" stroke="#008000"/>
<text x="1004.3" y="111.1" class="pg">7</text>
<text x="1040.8" y="111.1" class="pg">8</text>
<path d="M993.4 112.5L1012 112.5" stroke="#ff0000"/>
<path d="M987.5 112.5L990.5 109L993.5 112.5L990.5 116Z" stroke="#ff0000" fill="#fff"/>
<text x="985.8" y="116.8" class="rd" text-anchor="end">PA4</text>
<ellipse cx="1022.2" cy="125.5" rx="1.55" ry="2" stroke="#008000" fill="#fff"/>
<ellipse cx="1033" cy="125.5" rx="1.55" ry="2" stroke="#008000" fill="#fff"/>
<path d="M1012 125.5L1020.3 125.5" stroke="#008000"/>
<path d="M1034.9 125.5L1044 125.5" stroke="#008000"/>
<text x="1004.3" y="124.1" class="pg">9</text>
<text x="1040.8" y="124.1" class="pg">10</text>
<path d="M993.4 125.5L1012 125.5" stroke="#ff0000"/>
<path d="M987.5 125.5L990.5 122L993.5 125.5L990.5 129Z" stroke="#ff0000" fill="#fff"/>
<text x="985.8" y="129.8" class="rd" text-anchor="end">PA6</text>
<path d="M1044 125.5L1055.6 125.5" stroke="#ff0000"/>
<path d="M1055.5 125.5L1058.5 122L1061.5 125.5L1058.5 129Z" stroke="#ff0000" fill="#fff"/>
<text x="1067.4" y="129.8" class="rd">PA7</text>
<ellipse cx="1022.2" cy="139.5" rx="1.55" ry="2" stroke="#008000" fill="#fff"/>
<ellipse cx="1033" cy="139.5" rx="1.55" ry="2" stroke="#008000" fill="#fff"/>
<path d="M1012 139.5L1020.3 139.5" stroke="#008000"/>
<path d="M1034.9 139.5L1044 139.5" stroke="#008000"/>
<text x="1004.3" y="138.1" class="pg">11</text>
<text x="1040.8" y="138.1" class="pg">12</text>
<path d="M993.4 139.5L1012 139.5" stroke="#ff0000"/>
<path d="M987.5 139.5L990.5 136L993.5 139.5L990.5 143Z" stroke="#ff0000" fill="#fff"/>
<text x="985.8" y="143.8" class="rd" text-anchor="end">PC7</text>
<path d="M1044 139.5L1055.6 139.5" stroke="#ff0000"/>
<path d="M1055.5 139.5L1058.5 136L1061.5 139.5L1058.5 143Z" stroke="#ff0000" fill="#fff"/>
<text x="1067.4" y="143.8" class="rd">PC6</text>
<ellipse cx="1022.2" cy="152.5" rx="1.55" ry="2" stroke="#008000" fill="#fff"/>
<ellipse cx="1033" cy="152.5" rx="1.55" ry="2" stroke="#008000" fill="#fff"/>
<path d="M1012 152.5L1020.3 152.5" stroke="#008000"/>
<path d="M1034.9 152.5L1044 152.5" stroke="#008000"/>
<text x="1004.3" y="151.1" class="pg">13</text>
<text x="1040.8" y="151.1" class="pg">14</text>
<path d="M993.4 152.5L1012 152.5" stroke="#ff0000"/>
<path d="M987.5 152.5L990.5 149L993.5 152.5L990.5 156Z" stroke="#ff0000" fill="#fff"/>
<text x="985.8" y="156.8" class="rd" text-anchor="end">PC5</text>
<path d="M1044 152.5L1055.6 152.5" stroke="#ff0000"/>
<path d="M1055.5 152.5L1058.5 149L1061.5 152.5L1058.5 156Z" stroke="#ff0000" fill="#fff"/>
<text x="1067.4" y="156.8" class="rd">PC4</text>
<ellipse cx="1022.2" cy="166.5" rx="1.55" ry="2" stroke="#008000" fill="#fff"/>
<ellipse cx="1033" cy="166.5" rx="1.55" ry="2" stroke="#008000" fill="#fff"/>
<path d="M1012 166.5L1020.3 166.5" stroke="#008000"/>
<path d="M1034.9 166.5L1044 166.5" stroke="#008000"/>
<text x="1004.3" y="165.1" class="pg">15</text>
<text x="1040.8" y="165.1" class="pg">16</text>
<path d="M993.4 166.5L1012 166.5" stroke="#ff0000"/>
<path d="M987.5 166.5L990.5 163L993.5 166.5L990.5 170Z" stroke="#ff0000" fill="#fff"/>
<text x="985.8" y="170.8" class="rd" text-anchor="end">PC3</text>
<path d="M1044 166.5L1055.6 166.5" stroke="#ff0000"/>
<path d="M1055.5 166.5L1058.5 163L1061.5 166.5L1058.5 170Z" stroke="#ff0000" fill="#fff"/>
<text x="1067.4" y="170.8" class="rd">PC2</text>
<ellipse cx="1022.2" cy="179.5" rx="1.55" ry="2" stroke="#008000" fill="#fff"/>
<ellipse cx="1033" cy="179.5" rx="1.55" ry="2" stroke="#008000" fill="#fff"/>
<path d="M1012 179.5L1020.3 179.5" stroke="#008000"/>
<path d="M1034.9 179.5L1044 179.5" stroke="#008000"/>
<text x="1004.3" y="178.1" class="pg">17</text>
<text x="1040.8" y="178.1" class="pg">18</text>
<path d="M993.4 179.5L1012 179.5" stroke="#ff0000"/>
<path d="M987.5 179.5L990.5 176L993.5 179.5L990.5 183Z" stroke="#ff0000" fill="#fff"/>
<text x="985.8" y="183.8" class="rd" text-anchor="end">PC1</text>
<path d="M1044 179.5L1055.6 179.5" stroke="#ff0000"/>
<path d="M1055.5 179.5L1058.5 176L1061.5 179.5L1058.5 183Z" stroke="#ff0000" fill="#fff"/>
<text x="1067.4" y="183.8" class="rd">PC0</text>
<ellipse cx="1022.2" cy="193.5" rx="1.55" ry="2" stroke="#008000" fill="#fff"/>
<ellipse cx="1033" cy="193.5" rx="1.55" ry="2" stroke="#008000" fill="#fff"/>
<path d="M1012 193.5L1020.3 193.5" stroke="#008000"/>
<path d="M1034.9 193.5L1044 193.5" stroke="#008000"/>
<text x="1004.3" y="192.1" class="pg">19</text>
<text x="1040.8" y="192.1" class="pg">20</text>
<path d="M993.4 193.5L1012 193.5" stroke="#ff0000"/>
<path d="M987.5 193.5L990.5 190L993.5 193.5L990.5 197Z" stroke="#ff0000" fill="#fff"/>
<text x="985.8" y="197.8" class="rd" text-anchor="end">PD7</text>
<path d="M1044 193.5L1055.6 193.5" stroke="#ff0000"/>
<path d="M1055.5 193.5L1058.5 190L1061.5 193.5L1058.5 197Z" stroke="#ff0000" fill="#fff"/>
<text x="1067.4" y="197.8" class="rd">PG2</text>
<ellipse cx="1022.2" cy="206.5" rx="1.55" ry="2" stroke="#008000" fill="#fff"/>
<ellipse cx="1033" cy="206.5" rx="1.55" ry="2" stroke="#008000" fill="#fff"/>
<path d="M1012 206.5L1020.3 206.5" stroke="#008000"/>
<path d="M1034.9 206.5L1044 206.5" stroke="#008000"/>
<text x="1004.3" y="205.1" class="pg">21</text>
<text x="1040.8" y="205.1" class="pg">22</text>
<path d="M993.4 206.5L1012 206.5" stroke="#ff0000"/>
<path d="M987.5 206.5L990.5 203L993.5 206.5L990.5 210Z" stroke="#ff0000" fill="#fff"/>
<text x="985.8" y="210.8" class="rd" text-anchor="end">PG1</text>
<path d="M1044 206.5L1055.6 206.5" stroke="#ff0000"/>
<path d="M1055.5 206.5L1058.5 203L1061.5 206.5L1058.5 210Z" stroke="#ff0000" fill="#fff"/>
<text x="1067.4" y="210.8" class="rd">PG0</text>
<ellipse cx="1022.2" cy="220.5" rx="1.55" ry="2" stroke="#008000" fill="#fff"/>
<ellipse cx="1033" cy="220.5" rx="1.55" ry="2" stroke="#008000" fill="#fff"/>
<path d="M1012 220.5L1020.3 220.5" stroke="#008000"/>
<path d="M1034.9 220.5L1044 220.5" stroke="#008000"/>
<text x="1004.3" y="219.1" class="pg">23</text>
<text x="1040.8" y="219.1" class="pg">24</text>
<path d="M993.4 220.5L1012 220.5" stroke="#ff0000"/>
<path d="M987.5 220.5L990.5 217L993.5 220.5L990.5 224Z" stroke="#ff0000" fill="#fff"/>
<text x="985.8" y="224.8" class="rd" text-anchor="end">PL7</text>
<path d="M1044 220.5L1055.6 220.5" stroke="#ff0000"/>
<path d="M1055.5 220.5L1058.5 217L1061.5 220.5L1058.5 224Z" stroke="#ff0000" fill="#fff"/>
<text x="1067.4" y="224.8" class="rd">PL6</text>
<ellipse cx="1022.2" cy="233.5" rx="1.55" ry="2" stroke="#008000" fill="#fff"/>
<ellipse cx="1033" cy="233.5" rx="1.55" ry="2" stroke="#008000" fill="#fff"/>
<path d="M1012 233.5L1020.3 233.5" stroke="#008000"/>
<path d="M1034.9 233.5L1044 233.5" stroke="#008000"/>
<text x="1004.3" y="232.1" class="pg">25</text>
<text x="1040.8" y="232.1" class="pg">26</text>
<path d="M993.4 233.5L1012 233.5" stroke="#ff0000"/>
<path d="M987.5 233.5L990.5 230L993.5 233.5L990.5 237Z" stroke="#ff0000" fill="#fff"/>
<text x="985.8" y="237.8" class="rd" text-anchor="end">PL5</text>
<path d="M1044 233.5L1055.6 233.5" stroke="#ff0000"/>
<path d="M1055.5 233.5L1058.5 230L1061.5 233.5L1058.5 237Z" stroke="#ff0000" fill="#fff"/>
<text x="1067.4" y="237.8" class="rd">PL4</text>
<ellipse cx="1022.2" cy="247.5" rx="1.55" ry="2" stroke="#008000" fill="#fff"/>
<ellipse cx="1033" cy="247.5" rx="1.55" ry="2" stroke="#008000" fill="#fff"/>
<path d="M1012 247.5L1020.3 247.5" stroke="#008000"/>
<path d="M1034.9 247.5L1044 247.5" stroke="#008000"/>
<text x="1004.3" y="246.1" class="pg">27</text>
<text x="1040.8" y="246.1" class="pg">28</text>
<path d="M993.4 247.5L1012 247.5" stroke="#ff0000"/>
<path d="M987.5 247.5L990.5 244L993.5 247.5L990.5 251Z" stroke="#ff0000" fill="#fff"/>
<text x="985.8" y="251.8" class="rd" text-anchor="end">PL3</text>
<path d="M1044 247.5L1055.6 247.5" stroke="#ff0000"/>
<path d="M1055.5 247.5L1058.5 244L1061.5 247.5L1058.5 251Z" stroke="#ff0000" fill="#fff"/>
<text x="1067.4" y="251.8" class="rd">PL2</text>
<ellipse cx="1022.2" cy="260.5" rx="1.55" ry="2" stroke="#008000" fill="#fff"/>
<ellipse cx="1033" cy="260.5" rx="1.55" ry="2" stroke="#008000" fill="#fff"/>
<path d="M1012 260.5L1020.3 260.5" stroke="#008000"/>
<path d="M1034.9 260.5L1044 260.5" stroke="#008000"/>
<text x="1004.3" y="259.1" class="pg">29</text>
<text x="1040.8" y="259.1" class="pg">30</text>
<path d="M993.4 260.5L1012 260.5" stroke="#ff0000"/>
<path d="M987.5 260.5L990.5 257L993.5 260.5L990.5 264Z" stroke="#ff0000" fill="#fff"/>
<text x="985.8" y="264.8" class="rd" text-anchor="end">PL1</text>
<path d="M1044 260.5L1055.6 260.5" stroke="#ff0000"/>
<path d="M1055.5 260.5L1058.5 257L1061.5 260.5L1058.5 264Z" stroke="#ff0000" fill="#fff"/>
<text x="1067.4" y="264.8" class="rd">PL0</text>
<ellipse cx="1022.2" cy="274.5" rx="1.55" ry="2" stroke="#008000" fill="#fff"/>
<ellipse cx="1033" cy="274.5" rx="1.55" ry="2" stroke="#008000" fill="#fff"/>
<path d="M1012 274.5L1020.3 274.5" stroke="#008000"/>
<path d="M1034.9 274.5L1044 274.5" stroke="#008000"/>
<text x="1004.3" y="273.1" class="pg">31</text>
<text x="1040.8" y="273.1" class="pg">32</text>
<path d="M1000.4 274.5L1012 274.5" stroke="#ff0000"/>
<path d="M994.5 274.5L997.5 271L1000.5 274.5L997.5 278Z" stroke="#ff0000" fill="#fff"/>
<text x="992.8" y="278.8" class="rd" text-anchor="end" textLength="58.56" lengthAdjust="spacingAndGlyphs">PB3_MISO</text>
<path d="M1044 274.5L1055.6 274.5" stroke="#ff0000"/>
<path d="M1055.5 274.5L1058.5 271L1061.5 274.5L1058.5 278Z" stroke="#ff0000" fill="#fff"/>
<text x="1067.4" y="278.8" class="rd" textLength="58.56" lengthAdjust="spacingAndGlyphs">PB2_MOSI</text>
<ellipse cx="1022.2" cy="287.5" rx="1.55" ry="2" stroke="#008000" fill="#fff"/>
<ellipse cx="1033" cy="287.5" rx="1.55" ry="2" stroke="#008000" fill="#fff"/>
<path d="M1012 287.5L1020.3 287.5" stroke="#008000"/>
<path d="M1034.9 287.5L1044 287.5" stroke="#008000"/>
<text x="1004.3" y="286.1" class="pg">33</text>
<text x="1040.8" y="286.1" class="pg">34</text>
<path d="M1000.4 287.5L1012 287.5" stroke="#ff0000"/>
<path d="M994.5 287.5L997.5 284L1000.5 287.5L997.5 291Z" stroke="#ff0000" fill="#fff"/>
<text x="992.8" y="291.8" class="rd" text-anchor="end" textLength="53.42" lengthAdjust="spacingAndGlyphs">PB1_SCK</text>
<path d="M1044 287.5L1055.6 287.5" stroke="#ff0000"/>
<path d="M1055.5 287.5L1058.5 284L1061.5 287.5L1058.5 291Z" stroke="#ff0000" fill="#fff"/>
<text x="1067.4" y="291.8" class="rd" textLength="44.41" lengthAdjust="spacingAndGlyphs">PB0_SS</text>
<ellipse cx="1022.2" cy="301.5" rx="1.55" ry="2" stroke="#008000" fill="#fff"/>
<ellipse cx="1033" cy="301.5" rx="1.55" ry="2" stroke="#008000" fill="#fff"/>
<path d="M1012 301.5L1020.3 301.5" stroke="#008000"/>
<path d="M1034.9 301.5L1044 301.5" stroke="#008000"/>
<text x="1004.3" y="300.1" class="pg">35</text>
<text x="1040.8" y="300.1" class="pg">36</text>
<path d="M1021.5 119.5L1024.5 116L1027.5 119.5L1024.5 123Z" stroke="#ff0000" fill="#fff"/>
<text x="1034" y="123.8" class="rd">PA5</text>
<path d="M1012.5 301.5L997.5 301.5L997.5 321.5L1058.5 321.5L1058.5 301.5L1044.5 301.5" stroke="#ff0000" fill="none"/>
<circle cx="997.3" cy="321.3" r="1.2" fill="#ff0000"/>
<path d="M997.5 321L997.5 328.4" stroke="#000000"/>
<path d="M990.5 328.5L1004 328.5" stroke="#000000"/>
<path d="M993 330.5L1001.5 330.5" stroke="#000000"/>
<path d="M995 333.5L999.5 333.5" stroke="#000000"/>
<text x="1006" y="350.5" class="gn" textLength="102.21" lengthAdjust="spacingAndGlyphs">COMMUNICATION</text>
<rect x="1051.5" y="355.5" width="20" height="108" stroke="#008000" fill="none"/>
<rect x="1056.5" y="357.5" width="8" height="8" stroke="#008000" fill="none"/>
<ellipse cx="1060.3" cy="362.3" rx="1.4" ry="1.6" stroke="#008000" fill="none"/>
<path d="M1045 362.5L1058.4 362.5" stroke="#008000"/>
<text x="1045.8" y="361.1" class="pg" text-anchor="middle">1</text>
<path d="M1027.3 362.5L1045 362.5" stroke="#ff0000"/>
<path d="M1021.5 362.5L1024.5 359L1027.5 362.5L1024.5 366Z" stroke="#ff0000" fill="#fff"/>
<text x="1019.8" y="366.8" class="rd" text-anchor="end">SCL</text>
<ellipse cx="1060.3" cy="375.3" rx="1.4" ry="1.6" stroke="#008000" fill="none"/>
<path d="M1045 375.5L1058.4 375.5" stroke="#008000"/>
<text x="1045.8" y="374.1" class="pg" text-anchor="middle">2</text>
<path d="M1027.3 375.5L1045 375.5" stroke="#ff0000"/>
<path d="M1021.5 375.5L1024.5 372L1027.5 375.5L1024.5 379Z" stroke="#ff0000" fill="#fff"/>
<text x="1019.8" y="379.8" class="rd" text-anchor="end">SDA</text>
<ellipse cx="1060.3" cy="389.3" rx="1.4" ry="1.6" stroke="#008000" fill="none"/>
<path d="M1045 389.5L1058.4 389.5" stroke="#008000"/>
<text x="1045.8" y="388.1" class="pg" text-anchor="middle">3</text>
<path d="M1027.3 389.5L1045 389.5" stroke="#ff0000"/>
<path d="M1021.5 389.5L1024.5 386L1027.5 389.5L1024.5 393Z" stroke="#ff0000" fill="#fff"/>
<text x="1019.8" y="393.8" class="rd" text-anchor="end">RXD1</text>
<ellipse cx="1060.3" cy="402.3" rx="1.4" ry="1.6" stroke="#008000" fill="none"/>
<path d="M1045 402.5L1058.4 402.5" stroke="#008000"/>
<text x="1045.8" y="401.1" class="pg" text-anchor="middle">4</text>
<path d="M1027.3 402.5L1045 402.5" stroke="#ff0000"/>
<path d="M1021.5 402.5L1024.5 399L1027.5 402.5L1024.5 406Z" stroke="#ff0000" fill="#fff"/>
<text x="1019.8" y="406.8" class="rd" text-anchor="end">RXD2</text>
<ellipse cx="1060.3" cy="416.3" rx="1.4" ry="1.6" stroke="#008000" fill="none"/>
<path d="M1045 416.5L1058.4 416.5" stroke="#008000"/>
<text x="1045.8" y="415.1" class="pg" text-anchor="middle">5</text>
<path d="M1027.3 416.5L1045 416.5" stroke="#ff0000"/>
<path d="M1021.5 416.5L1024.5 413L1027.5 416.5L1024.5 420Z" stroke="#ff0000" fill="#fff"/>
<text x="1019.8" y="420.8" class="rd" text-anchor="end">TXD2</text>
<ellipse cx="1060.3" cy="429.3" rx="1.4" ry="1.6" stroke="#008000" fill="none"/>
<path d="M1045 429.5L1058.4 429.5" stroke="#008000"/>
<text x="1045.8" y="428.1" class="pg" text-anchor="middle">6</text>
<path d="M1027.3 429.5L1045 429.5" stroke="#ff0000"/>
<path d="M1021.5 429.5L1024.5 426L1027.5 429.5L1024.5 433Z" stroke="#ff0000" fill="#fff"/>
<text x="1019.8" y="433.8" class="rd" text-anchor="end">RXD2</text>
<ellipse cx="1060.3" cy="443.3" rx="1.4" ry="1.6" stroke="#008000" fill="none"/>
<path d="M1045 443.5L1058.4 443.5" stroke="#008000"/>
<text x="1045.8" y="442.1" class="pg" text-anchor="middle">7</text>
<path d="M1027.3 443.5L1045 443.5" stroke="#ff0000"/>
<path d="M1021.5 443.5L1024.5 440L1027.5 443.5L1024.5 447Z" stroke="#ff0000" fill="#fff"/>
<text x="1019.8" y="447.8" class="rd" text-anchor="end">RXD3</text>
<ellipse cx="1060.3" cy="456.3" rx="1.4" ry="1.6" stroke="#008000" fill="none"/>
<path d="M1045 456.5L1058.4 456.5" stroke="#008000"/>
<text x="1045.8" y="455.1" class="pg" text-anchor="middle">8</text>
<path d="M1027.3 456.5L1045 456.5" stroke="#ff0000"/>
<path d="M1021.5 456.5L1024.5 453L1027.5 456.5L1024.5 460Z" stroke="#ff0000" fill="#fff"/>
<text x="1019.8" y="460.8" class="rd" text-anchor="end">TXD3</text>
<text x="1040.4" y="485.6" class="gn" textLength="35.01" lengthAdjust="spacingAndGlyphs">PWML</text>
<rect x="1051.5" y="490.5" width="20" height="108" stroke="#008000" fill="none"/>
<rect x="1056.5" y="492.5" width="8" height="8" stroke="#008000" fill="none"/>
<ellipse cx="1060.3" cy="497.3" rx="1.4" ry="1.6" stroke="#008000" fill="none"/>
<path d="M1045 497.5L1058.4 497.5" stroke="#008000"/>
<text x="1045.8" y="496.1" class="pg" text-anchor="middle">1</text>
<path d="M1027.3 497.5L1045 497.5" stroke="#ff0000"/>
<path d="M1021.5 497.5L1024.5 494L1027.5 497.5L1024.5 501Z" stroke="#ff0000" fill="#fff"/>
<text x="1019.8" y="501.8" class="rd" text-anchor="end">PE0</text>
<ellipse cx="1060.3" cy="510.3" rx="1.4" ry="1.6" stroke="#008000" fill="none"/>
<path d="M1045 510.5L1058.4 510.5" stroke="#008000"/>
<text x="1045.8" y="509.1" class="pg" text-anchor="middle">2</text>
<path d="M1027.3 510.5L1045 510.5" stroke="#ff0000"/>
<path d="M1021.5 510.5L1024.5 507L1027.5 510.5L1024.5 514Z" stroke="#ff0000" fill="#fff"/>
<text x="1019.8" y="514.8" class="rd" text-anchor="end">PE1</text>
<ellipse cx="1060.3" cy="524.3" rx="1.4" ry="1.6" stroke="#008000" fill="none"/>
<path d="M1045 524.5L1058.4 524.5" stroke="#008000"/>
<text x="1045.8" y="523.1" class="pg" text-anchor="middle">3</text>
<path d="M1027.3 524.5L1045 524.5" stroke="#ff0000"/>
<path d="M1021.5 524.5L1024.5 521L1027.5 524.5L1024.5 528Z" stroke="#ff0000" fill="#fff"/>
<text x="1019.8" y="528.8" class="rd" text-anchor="end">PE4</text>
<ellipse cx="1060.3" cy="537.3" rx="1.4" ry="1.6" stroke="#008000" fill="none"/>
<path d="M1045 537.5L1058.4 537.5" stroke="#008000"/>
<text x="1045.8" y="536.1" class="pg" text-anchor="middle">4</text>
<path d="M1027.3 537.5L1045 537.5" stroke="#ff0000"/>
<path d="M1021.5 537.5L1024.5 534L1027.5 537.5L1024.5 541Z" stroke="#ff0000" fill="#fff"/>
<text x="1019.8" y="541.8" class="rd" text-anchor="end">PE5</text>
<ellipse cx="1060.3" cy="551.3" rx="1.4" ry="1.6" stroke="#008000" fill="none"/>
<path d="M1045 551.5L1058.4 551.5" stroke="#008000"/>
<text x="1045.8" y="550.1" class="pg" text-anchor="middle">5</text>
<path d="M1027.3 551.5L1045 551.5" stroke="#ff0000"/>
<path d="M1021.5 551.5L1024.5 548L1027.5 551.5L1024.5 555Z" stroke="#ff0000" fill="#fff"/>
<text x="1019.8" y="555.8" class="rd" text-anchor="end">PG5</text>
<ellipse cx="1060.3" cy="564.3" rx="1.4" ry="1.6" stroke="#008000" fill="none"/>
<path d="M1045 564.5L1058.4 564.5" stroke="#008000"/>
<text x="1045.8" y="563.1" class="pg" text-anchor="middle">6</text>
<path d="M1027.3 564.5L1045 564.5" stroke="#ff0000"/>
<path d="M1021.5 564.5L1024.5 561L1027.5 564.5L1024.5 568Z" stroke="#ff0000" fill="#fff"/>
<text x="1019.8" y="568.8" class="rd" text-anchor="end">PE3</text>
<ellipse cx="1060.3" cy="578.3" rx="1.4" ry="1.6" stroke="#008000" fill="none"/>
<path d="M1045 578.5L1058.4 578.5" stroke="#008000"/>
<text x="1045.8" y="577.1" class="pg" text-anchor="middle">7</text>
<path d="M1027.3 578.5L1045 578.5" stroke="#ff0000"/>
<path d="M1021.5 578.5L1024.5 575L1027.5 578.5L1024.5 582Z" stroke="#ff0000" fill="#fff"/>
<text x="1019.8" y="582.8" class="rd" text-anchor="end">PH3</text>
<ellipse cx="1060.3" cy="591.3" rx="1.4" ry="1.6" stroke="#008000" fill="none"/>
<path d="M1045 591.5L1058.4 591.5" stroke="#008000"/>
<text x="1045.8" y="590.1" class="pg" text-anchor="middle">8</text>
<path d="M1027.3 591.5L1045 591.5" stroke="#ff0000"/>
<path d="M1021.5 591.5L1024.5 588L1027.5 591.5L1024.5 595Z" stroke="#ff0000" fill="#fff"/>
<text x="1019.8" y="595.8" class="rd" text-anchor="end">PH4</text>
</svg>
</body></html>
